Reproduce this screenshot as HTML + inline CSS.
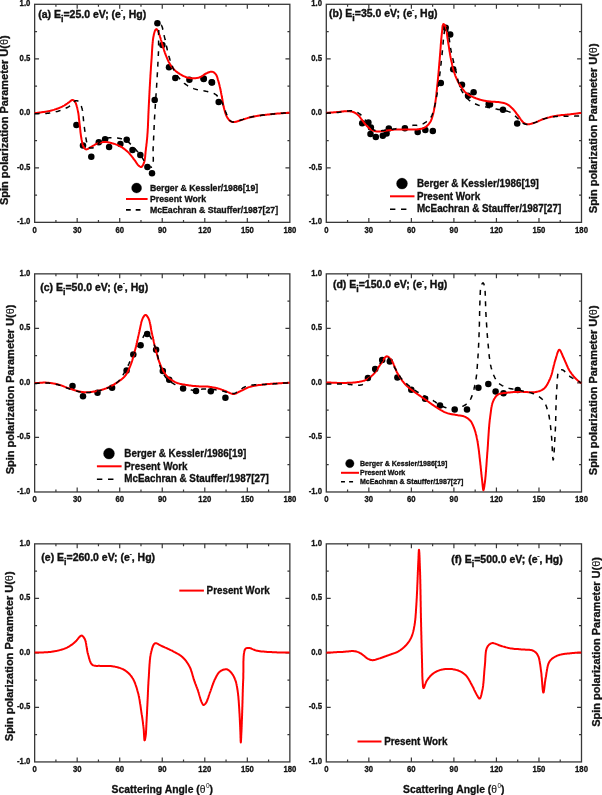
<!DOCTYPE html>
<html><head><meta charset="utf-8"><style>
html,body{margin:0;padding:0;background:#fff;}
svg{display:block;will-change:transform;}
</style></head><body>
<svg width="602" height="795" viewBox="0 0 602 795">
<rect width="602" height="795" fill="#fff"/>
<rect x="34.65" y="4.3" width="255.2" height="218.05" fill="none" stroke="#383838" stroke-width="1.3"/>
<path d="M55.92 222.35 v-2.4 M55.92 4.3 v2.4 M77.18 222.35 v-4.4 M77.18 4.3 v4.4 M98.45 222.35 v-2.4 M98.45 4.3 v2.4 M119.72 222.35 v-4.4 M119.72 4.3 v4.4 M140.98 222.35 v-2.4 M140.98 4.3 v2.4 M162.25 222.35 v-4.4 M162.25 4.3 v4.4 M183.52 222.35 v-2.4 M183.52 4.3 v2.4 M204.78 222.35 v-4.4 M204.78 4.3 v4.4 M226.05 222.35 v-2.4 M226.05 4.3 v2.4 M247.32 222.35 v-4.4 M247.32 4.3 v4.4 M268.58 222.35 v-2.4 M268.58 4.3 v2.4 M34.65 31.56 h2.4 M289.85 31.56 h-2.4 M34.65 58.81 h4.4 M289.85 58.81 h-4.4 M34.65 86.07 h2.4 M289.85 86.07 h-2.4 M34.65 113.32 h4.4 M289.85 113.32 h-4.4 M34.65 140.58 h2.4 M289.85 140.58 h-2.4 M34.65 167.84 h4.4 M289.85 167.84 h-4.4 M34.65 195.09 h2.4 M289.85 195.09 h-2.4" stroke="#383838" stroke-width="1.2" fill="none"/>
<g font-family='"Liberation Sans", sans-serif' font-weight="bold" font-size="8.4" fill="#111" stroke="#111" stroke-width="0.3"><text transform="translate(34.65 232.55) scale(0.92 1)" text-anchor="middle">0</text><text transform="translate(77.18 232.55) scale(0.92 1)" text-anchor="middle">30</text><text transform="translate(119.72 232.55) scale(0.92 1)" text-anchor="middle">60</text><text transform="translate(162.25 232.55) scale(0.92 1)" text-anchor="middle">90</text><text transform="translate(204.78 232.55) scale(0.92 1)" text-anchor="middle">120</text><text transform="translate(247.32 232.55) scale(0.92 1)" text-anchor="middle">150</text><text transform="translate(289.85 232.55) scale(0.92 1)" text-anchor="middle">180</text><text transform="translate(30.35 6.2) scale(0.92 1)" text-anchor="end">1.0</text><text transform="translate(30.35 60.71) scale(0.92 1)" text-anchor="end">0.5</text><text transform="translate(30.35 115.22) scale(0.92 1)" text-anchor="end">0.0</text><text transform="translate(30.35 169.74) scale(0.92 1)" text-anchor="end">-0.5</text><text transform="translate(30.35 224.25) scale(0.92 1)" text-anchor="end">-1.0</text></g>
<rect x="34.65" y="273.85" width="255.2" height="218.13" fill="none" stroke="#383838" stroke-width="1.3"/>
<path d="M55.92 491.98 v-2.4 M55.92 273.85 v2.4 M77.18 491.98 v-4.4 M77.18 273.85 v4.4 M98.45 491.98 v-2.4 M98.45 273.85 v2.4 M119.72 491.98 v-4.4 M119.72 273.85 v4.4 M140.98 491.98 v-2.4 M140.98 273.85 v2.4 M162.25 491.98 v-4.4 M162.25 273.85 v4.4 M183.52 491.98 v-2.4 M183.52 273.85 v2.4 M204.78 491.98 v-4.4 M204.78 273.85 v4.4 M226.05 491.98 v-2.4 M226.05 273.85 v2.4 M247.32 491.98 v-4.4 M247.32 273.85 v4.4 M268.58 491.98 v-2.4 M268.58 273.85 v2.4 M34.65 301.12 h2.4 M289.85 301.12 h-2.4 M34.65 328.38 h4.4 M289.85 328.38 h-4.4 M34.65 355.65 h2.4 M289.85 355.65 h-2.4 M34.65 382.92 h4.4 M289.85 382.92 h-4.4 M34.65 410.18 h2.4 M289.85 410.18 h-2.4 M34.65 437.45 h4.4 M289.85 437.45 h-4.4 M34.65 464.71 h2.4 M289.85 464.71 h-2.4" stroke="#383838" stroke-width="1.2" fill="none"/>
<g font-family='"Liberation Sans", sans-serif' font-weight="bold" font-size="8.4" fill="#111" stroke="#111" stroke-width="0.3"><text transform="translate(34.65 502.18) scale(0.92 1)" text-anchor="middle">0</text><text transform="translate(77.18 502.18) scale(0.92 1)" text-anchor="middle">30</text><text transform="translate(119.72 502.18) scale(0.92 1)" text-anchor="middle">60</text><text transform="translate(162.25 502.18) scale(0.92 1)" text-anchor="middle">90</text><text transform="translate(204.78 502.18) scale(0.92 1)" text-anchor="middle">120</text><text transform="translate(247.32 502.18) scale(0.92 1)" text-anchor="middle">150</text><text transform="translate(289.85 502.18) scale(0.92 1)" text-anchor="middle">180</text><text transform="translate(30.35 275.75) scale(0.92 1)" text-anchor="end">1.0</text><text transform="translate(30.35 330.28) scale(0.92 1)" text-anchor="end">0.5</text><text transform="translate(30.35 384.81) scale(0.92 1)" text-anchor="end">0.0</text><text transform="translate(30.35 439.35) scale(0.92 1)" text-anchor="end">-0.5</text><text transform="translate(30.35 493.88) scale(0.92 1)" text-anchor="end">-1.0</text></g>
<rect x="34.65" y="543.85" width="255.2" height="218.08" fill="none" stroke="#383838" stroke-width="1.3"/>
<path d="M55.92 761.93 v-2.4 M55.92 543.85 v2.4 M77.18 761.93 v-4.4 M77.18 543.85 v4.4 M98.45 761.93 v-2.4 M98.45 543.85 v2.4 M119.72 761.93 v-4.4 M119.72 543.85 v4.4 M140.98 761.93 v-2.4 M140.98 543.85 v2.4 M162.25 761.93 v-4.4 M162.25 543.85 v4.4 M183.52 761.93 v-2.4 M183.52 543.85 v2.4 M204.78 761.93 v-4.4 M204.78 543.85 v4.4 M226.05 761.93 v-2.4 M226.05 543.85 v2.4 M247.32 761.93 v-4.4 M247.32 543.85 v4.4 M268.58 761.93 v-2.4 M268.58 543.85 v2.4 M34.65 571.11 h2.4 M289.85 571.11 h-2.4 M34.65 598.37 h4.4 M289.85 598.37 h-4.4 M34.65 625.63 h2.4 M289.85 625.63 h-2.4 M34.65 652.89 h4.4 M289.85 652.89 h-4.4 M34.65 680.15 h2.4 M289.85 680.15 h-2.4 M34.65 707.41 h4.4 M289.85 707.41 h-4.4 M34.65 734.67 h2.4 M289.85 734.67 h-2.4" stroke="#383838" stroke-width="1.2" fill="none"/>
<g font-family='"Liberation Sans", sans-serif' font-weight="bold" font-size="8.4" fill="#111" stroke="#111" stroke-width="0.3"><text transform="translate(34.65 772.13) scale(0.92 1)" text-anchor="middle">0</text><text transform="translate(77.18 772.13) scale(0.92 1)" text-anchor="middle">30</text><text transform="translate(119.72 772.13) scale(0.92 1)" text-anchor="middle">60</text><text transform="translate(162.25 772.13) scale(0.92 1)" text-anchor="middle">90</text><text transform="translate(204.78 772.13) scale(0.92 1)" text-anchor="middle">120</text><text transform="translate(247.32 772.13) scale(0.92 1)" text-anchor="middle">150</text><text transform="translate(289.85 772.13) scale(0.92 1)" text-anchor="middle">180</text><text transform="translate(30.35 545.75) scale(0.92 1)" text-anchor="end">1.0</text><text transform="translate(30.35 600.27) scale(0.92 1)" text-anchor="end">0.5</text><text transform="translate(30.35 654.79) scale(0.92 1)" text-anchor="end">0.0</text><text transform="translate(30.35 709.31) scale(0.92 1)" text-anchor="end">-0.5</text><text transform="translate(30.35 763.83) scale(0.92 1)" text-anchor="end">-1.0</text></g>
<rect x="326.3" y="4.3" width="255.2" height="218.05" fill="none" stroke="#383838" stroke-width="1.3"/>
<path d="M347.57 222.35 v-2.4 M347.57 4.3 v2.4 M368.83 222.35 v-4.4 M368.83 4.3 v4.4 M390.1 222.35 v-2.4 M390.1 4.3 v2.4 M411.37 222.35 v-4.4 M411.37 4.3 v4.4 M432.63 222.35 v-2.4 M432.63 4.3 v2.4 M453.9 222.35 v-4.4 M453.9 4.3 v4.4 M475.17 222.35 v-2.4 M475.17 4.3 v2.4 M496.43 222.35 v-4.4 M496.43 4.3 v4.4 M517.7 222.35 v-2.4 M517.7 4.3 v2.4 M538.97 222.35 v-4.4 M538.97 4.3 v4.4 M560.23 222.35 v-2.4 M560.23 4.3 v2.4 M326.3 31.56 h2.4 M581.5 31.56 h-2.4 M326.3 58.81 h4.4 M581.5 58.81 h-4.4 M326.3 86.07 h2.4 M581.5 86.07 h-2.4 M326.3 113.32 h4.4 M581.5 113.32 h-4.4 M326.3 140.58 h2.4 M581.5 140.58 h-2.4 M326.3 167.84 h4.4 M581.5 167.84 h-4.4 M326.3 195.09 h2.4 M581.5 195.09 h-2.4" stroke="#383838" stroke-width="1.2" fill="none"/>
<g font-family='"Liberation Sans", sans-serif' font-weight="bold" font-size="8.4" fill="#111" stroke="#111" stroke-width="0.3"><text transform="translate(326.3 232.55) scale(0.92 1)" text-anchor="middle">0</text><text transform="translate(368.83 232.55) scale(0.92 1)" text-anchor="middle">30</text><text transform="translate(411.37 232.55) scale(0.92 1)" text-anchor="middle">60</text><text transform="translate(453.9 232.55) scale(0.92 1)" text-anchor="middle">90</text><text transform="translate(496.43 232.55) scale(0.92 1)" text-anchor="middle">120</text><text transform="translate(538.97 232.55) scale(0.92 1)" text-anchor="middle">150</text><text transform="translate(581.5 232.55) scale(0.92 1)" text-anchor="middle">180</text><text transform="translate(322 6.2) scale(0.92 1)" text-anchor="end">1.0</text><text transform="translate(322 60.71) scale(0.92 1)" text-anchor="end">0.5</text><text transform="translate(322 115.22) scale(0.92 1)" text-anchor="end">0.0</text><text transform="translate(322 169.74) scale(0.92 1)" text-anchor="end">-0.5</text><text transform="translate(322 224.25) scale(0.92 1)" text-anchor="end">-1.0</text></g>
<rect x="326.3" y="273.85" width="255.2" height="218.13" fill="none" stroke="#383838" stroke-width="1.3"/>
<path d="M347.57 491.98 v-2.4 M347.57 273.85 v2.4 M368.83 491.98 v-4.4 M368.83 273.85 v4.4 M390.1 491.98 v-2.4 M390.1 273.85 v2.4 M411.37 491.98 v-4.4 M411.37 273.85 v4.4 M432.63 491.98 v-2.4 M432.63 273.85 v2.4 M453.9 491.98 v-4.4 M453.9 273.85 v4.4 M475.17 491.98 v-2.4 M475.17 273.85 v2.4 M496.43 491.98 v-4.4 M496.43 273.85 v4.4 M517.7 491.98 v-2.4 M517.7 273.85 v2.4 M538.97 491.98 v-4.4 M538.97 273.85 v4.4 M560.23 491.98 v-2.4 M560.23 273.85 v2.4 M326.3 301.12 h2.4 M581.5 301.12 h-2.4 M326.3 328.38 h4.4 M581.5 328.38 h-4.4 M326.3 355.65 h2.4 M581.5 355.65 h-2.4 M326.3 382.92 h4.4 M581.5 382.92 h-4.4 M326.3 410.18 h2.4 M581.5 410.18 h-2.4 M326.3 437.45 h4.4 M581.5 437.45 h-4.4 M326.3 464.71 h2.4 M581.5 464.71 h-2.4" stroke="#383838" stroke-width="1.2" fill="none"/>
<g font-family='"Liberation Sans", sans-serif' font-weight="bold" font-size="8.4" fill="#111" stroke="#111" stroke-width="0.3"><text transform="translate(326.3 502.18) scale(0.92 1)" text-anchor="middle">0</text><text transform="translate(368.83 502.18) scale(0.92 1)" text-anchor="middle">30</text><text transform="translate(411.37 502.18) scale(0.92 1)" text-anchor="middle">60</text><text transform="translate(453.9 502.18) scale(0.92 1)" text-anchor="middle">90</text><text transform="translate(496.43 502.18) scale(0.92 1)" text-anchor="middle">120</text><text transform="translate(538.97 502.18) scale(0.92 1)" text-anchor="middle">150</text><text transform="translate(581.5 502.18) scale(0.92 1)" text-anchor="middle">180</text><text transform="translate(322 275.75) scale(0.92 1)" text-anchor="end">1.0</text><text transform="translate(322 330.28) scale(0.92 1)" text-anchor="end">0.5</text><text transform="translate(322 384.81) scale(0.92 1)" text-anchor="end">0.0</text><text transform="translate(322 439.35) scale(0.92 1)" text-anchor="end">-0.5</text><text transform="translate(322 493.88) scale(0.92 1)" text-anchor="end">-1.0</text></g>
<rect x="326.3" y="543.85" width="255.2" height="218.08" fill="none" stroke="#383838" stroke-width="1.3"/>
<path d="M347.57 761.93 v-2.4 M347.57 543.85 v2.4 M368.83 761.93 v-4.4 M368.83 543.85 v4.4 M390.1 761.93 v-2.4 M390.1 543.85 v2.4 M411.37 761.93 v-4.4 M411.37 543.85 v4.4 M432.63 761.93 v-2.4 M432.63 543.85 v2.4 M453.9 761.93 v-4.4 M453.9 543.85 v4.4 M475.17 761.93 v-2.4 M475.17 543.85 v2.4 M496.43 761.93 v-4.4 M496.43 543.85 v4.4 M517.7 761.93 v-2.4 M517.7 543.85 v2.4 M538.97 761.93 v-4.4 M538.97 543.85 v4.4 M560.23 761.93 v-2.4 M560.23 543.85 v2.4 M326.3 571.11 h2.4 M581.5 571.11 h-2.4 M326.3 598.37 h4.4 M581.5 598.37 h-4.4 M326.3 625.63 h2.4 M581.5 625.63 h-2.4 M326.3 652.89 h4.4 M581.5 652.89 h-4.4 M326.3 680.15 h2.4 M581.5 680.15 h-2.4 M326.3 707.41 h4.4 M581.5 707.41 h-4.4 M326.3 734.67 h2.4 M581.5 734.67 h-2.4" stroke="#383838" stroke-width="1.2" fill="none"/>
<g font-family='"Liberation Sans", sans-serif' font-weight="bold" font-size="8.4" fill="#111" stroke="#111" stroke-width="0.3"><text transform="translate(326.3 772.13) scale(0.92 1)" text-anchor="middle">0</text><text transform="translate(368.83 772.13) scale(0.92 1)" text-anchor="middle">30</text><text transform="translate(411.37 772.13) scale(0.92 1)" text-anchor="middle">60</text><text transform="translate(453.9 772.13) scale(0.92 1)" text-anchor="middle">90</text><text transform="translate(496.43 772.13) scale(0.92 1)" text-anchor="middle">120</text><text transform="translate(538.97 772.13) scale(0.92 1)" text-anchor="middle">150</text><text transform="translate(581.5 772.13) scale(0.92 1)" text-anchor="middle">180</text><text transform="translate(322 545.75) scale(0.92 1)" text-anchor="end">1.0</text><text transform="translate(322 600.27) scale(0.92 1)" text-anchor="end">0.5</text><text transform="translate(322 654.79) scale(0.92 1)" text-anchor="end">0.0</text><text transform="translate(322 709.31) scale(0.92 1)" text-anchor="end">-0.5</text><text transform="translate(322 763.83) scale(0.92 1)" text-anchor="end">-1.0</text></g>
<text transform="translate(8 205.1) rotate(-90)" x="0" y="0" font-family='"Liberation Sans", sans-serif' font-weight="bold" font-size="10.8" fill="#111" stroke="#111" stroke-width="0.3" textLength="169.8" lengthAdjust="spacingAndGlyphs">Spin polarization Parameter U(<tspan font-weight="normal" stroke-width="0.1">&#952;</tspan>)</text>
<text transform="translate(13.5 474.3) rotate(-90)" x="0" y="0" font-family='"Liberation Sans", sans-serif' font-weight="bold" font-size="10.8" fill="#111" stroke="#111" stroke-width="0.3" textLength="169.8" lengthAdjust="spacingAndGlyphs">Spin polarization Parameter U(<tspan font-weight="normal" stroke-width="0.1">&#952;</tspan>)</text>
<text transform="translate(12.5 741.2) rotate(-90)" x="0" y="0" font-family='"Liberation Sans", sans-serif' font-weight="bold" font-size="10.8" fill="#111" stroke="#111" stroke-width="0.3" textLength="169.8" lengthAdjust="spacingAndGlyphs">Spin polarization Parameter U(<tspan font-weight="normal" stroke-width="0.1">&#952;</tspan>)</text>
<text transform="translate(596.7 213.2) rotate(-90)" x="0" y="0" font-family='"Liberation Sans", sans-serif' font-weight="bold" font-size="10.8" fill="#111" stroke="#111" stroke-width="0.3" textLength="169.8" lengthAdjust="spacingAndGlyphs">Spin polarization Parameter U(<tspan font-weight="normal" stroke-width="0.1">&#952;</tspan>)</text>
<text transform="translate(596.7 475.2) rotate(-90)" x="0" y="0" font-family='"Liberation Sans", sans-serif' font-weight="bold" font-size="10.8" fill="#111" stroke="#111" stroke-width="0.3" textLength="169.8" lengthAdjust="spacingAndGlyphs">Spin polarization Parameter U(<tspan font-weight="normal" stroke-width="0.1">&#952;</tspan>)</text>
<text transform="translate(600 726.8) rotate(-90)" x="0" y="0" font-family='"Liberation Sans", sans-serif' font-weight="bold" font-size="10.8" fill="#111" stroke="#111" stroke-width="0.3" textLength="169.8" lengthAdjust="spacingAndGlyphs">Spin polarization Parameter U(<tspan font-weight="normal" stroke-width="0.1">&#952;</tspan>)</text>
<text x="162.3" y="792.5" text-anchor="middle" font-family='"Liberation Sans", sans-serif' font-weight="bold" font-size="10.35" fill="#111" stroke="#111" stroke-width="0.3">Scattering Angle (<tspan font-weight="normal" stroke-width="0.1">&#952;</tspan><tspan font-weight="normal" stroke-width="0" font-size="6.5" dy="-4.6" dx="0.4">0</tspan><tspan dy="4.6">)</tspan></text>
<text x="453.8" y="792.5" text-anchor="middle" font-family='"Liberation Sans", sans-serif' font-weight="bold" font-size="10.35" fill="#111" stroke="#111" stroke-width="0.3">Scattering Angle (<tspan font-weight="normal" stroke-width="0.1">&#952;</tspan><tspan font-weight="normal" stroke-width="0" font-size="6.5" dy="-4.6" dx="0.4">0</tspan><tspan dy="4.6">)</tspan></text>
<text transform="translate(38.2 17.6) scale(1.05 1)" x="0" y="0" font-family='"Liberation Sans", sans-serif' font-weight="bold" font-size="10" fill="#111" stroke="#111" stroke-width="0.35">(a) E<tspan font-size="8.5" dy="3.9">i</tspan><tspan dy="-3.9">=25.0 eV; (e</tspan><tspan font-size="5.5" dy="-5.5">-</tspan><tspan dy="5.5">, Hg)</tspan></text>
<text transform="translate(329 17.2) scale(1.05 1)" x="0" y="0" font-family='"Liberation Sans", sans-serif' font-weight="bold" font-size="10" fill="#111" stroke="#111" stroke-width="0.35">(b) E<tspan font-size="8.5" dy="3.9">i</tspan><tspan dy="-3.9">=35.0 eV; (e</tspan><tspan font-size="5.5" dy="-5.5">-</tspan><tspan dy="5.5">, Hg)</tspan></text>
<text transform="translate(40.2 290.9) scale(1.05 1)" x="0" y="0" font-family='"Liberation Sans", sans-serif' font-weight="bold" font-size="10" fill="#111" stroke="#111" stroke-width="0.35">(c) E<tspan font-size="8.5" dy="3.9">i</tspan><tspan dy="-3.9">=50.0 eV; (e</tspan><tspan font-size="5.5" dy="-5.5">-</tspan><tspan dy="5.5">, Hg)</tspan></text>
<text transform="translate(332.9 288) scale(1.05 1)" x="0" y="0" font-family='"Liberation Sans", sans-serif' font-weight="bold" font-size="10" fill="#111" stroke="#111" stroke-width="0.35">(d) E<tspan font-size="8.5" dy="3.9">i</tspan><tspan dy="-3.9">=150.0 eV; (e</tspan><tspan font-size="5.5" dy="-5.5">-</tspan><tspan dy="5.5">, Hg)</tspan></text>
<text transform="translate(41.3 561.3) scale(1.05 1)" x="0" y="0" font-family='"Liberation Sans", sans-serif' font-weight="bold" font-size="10" fill="#111" stroke="#111" stroke-width="0.35">(e) E<tspan font-size="8.5" dy="3.9">i</tspan><tspan dy="-3.9">=260.0 eV; (e</tspan><tspan font-size="5.5" dy="-5.5">-</tspan><tspan dy="5.5">, Hg)</tspan></text>
<text transform="translate(451.3 563.3) scale(1.05 1)" x="0" y="0" font-family='"Liberation Sans", sans-serif' font-weight="bold" font-size="10" fill="#111" stroke="#111" stroke-width="0.35">(f) E<tspan font-size="8.5" dy="3.9">i</tspan><tspan dy="-3.9">=500.0 eV; (e</tspan><tspan font-size="5.5" dy="-5.5">-</tspan><tspan dy="5.5">, Hg)</tspan></text>
<g font-family='"Liberation Sans", sans-serif' font-weight="bold" font-size="8.75" fill="#111" stroke="#111" stroke-width="0.3"><circle cx="136.6" cy="188" r="5" fill="#000"/><text transform="translate(149.9 190.9) scale(1 1.1)">Berger &amp; Kessler/1986[19]</text><path d="M126 199 H147.6" stroke="#f00" stroke-width="2"/><text transform="translate(149.9 201.5) scale(1 1.1)">Present Work</text><path d="M126 209.9 h4.75 M135.72 209.9 h4.75" stroke="#000" stroke-width="1.6"/><text transform="translate(149.9 212.6) scale(1 1.1)">McEachran &amp; Stauffer/1987[27]</text></g>
<g font-family='"Liberation Sans", sans-serif' font-weight="bold" font-size="9.85" fill="#111" stroke="#111" stroke-width="0.3"><circle cx="402" cy="183.6" r="5.5" fill="#000"/><text transform="translate(416.9 187.2) scale(1 1.1)">Berger &amp; Kessler/1986[19]</text><path d="M390 196.3 H414.5" stroke="#f00" stroke-width="2"/><text transform="translate(416.9 199.6) scale(1 1.1)">Present Work</text><path d="M390 209.3 h5.39 M401.02 209.3 h5.39" stroke="#000" stroke-width="1.6"/><text transform="translate(416.9 212.2) scale(1 1.1)">McEachran &amp; Stauffer/1987[27]</text></g>
<g font-family='"Liberation Sans", sans-serif' font-weight="bold" font-size="9.85" fill="#111" stroke="#111" stroke-width="0.3"><circle cx="109" cy="453.6" r="5.5" fill="#000"/><text transform="translate(124.3 457.2) scale(1 1.1)">Berger &amp; Kessler/1986[19]</text><path d="M96.9 466.3 H121.6" stroke="#f00" stroke-width="2"/><text transform="translate(124.3 469.6) scale(1 1.1)">Present Work</text><path d="M96.9 479.3 h5.43 M108.02 479.3 h5.43" stroke="#000" stroke-width="1.6"/><text transform="translate(124.3 482) scale(1 1.1)">McEachran &amp; Stauffer/1987[27]</text></g>
<g font-family='"Liberation Sans", sans-serif' font-weight="bold" font-size="7.05" fill="#111" stroke="#111" stroke-width="0.3"><circle cx="349.8" cy="463.5" r="4.25" fill="#000"/><text transform="translate(360 465.5) scale(1 1.1)">Berger &amp; Kessler/1986[19]</text><path d="M341 472.8 H359" stroke="#f00" stroke-width="2"/><text transform="translate(360 474.5) scale(1 1.1)">Present Work</text><path d="M341 481.8 h3.96 M349.1 481.8 h3.96" stroke="#000" stroke-width="1.6"/><text transform="translate(360 483.5) scale(1 1.1)">McEachran &amp; Stauffer/1987[27]</text></g>
<g font-family='"Liberation Sans", sans-serif' font-weight="bold" font-size="9.83" fill="#111" stroke="#111" stroke-width="0.3"><path d="M179.3 590.6 H203.9" stroke="#f00" stroke-width="2"/><text transform="translate(206.6 594) scale(1 1.1)">Present Work</text></g>
<g font-family='"Liberation Sans", sans-serif' font-weight="bold" font-size="9.83" fill="#111" stroke="#111" stroke-width="0.3"><path d="M357.5 741.5 H381.5" stroke="#f00" stroke-width="2"/><text transform="translate(384.2 745) scale(1 1.1)">Present Work</text></g>
<g fill="#000"><circle cx="76.4" cy="124.9" r="3.25"/><circle cx="83" cy="145.6" r="3.25"/><circle cx="91.3" cy="156.7" r="3.25"/><circle cx="98.8" cy="142.3" r="3.25"/><circle cx="105.1" cy="139.3" r="3.25"/><circle cx="109.1" cy="146.9" r="3.25"/><circle cx="120.4" cy="144" r="3.25"/><circle cx="126.7" cy="139.8" r="3.25"/><circle cx="132.5" cy="150" r="3.25"/><circle cx="140.3" cy="154.9" r="3.25"/><circle cx="147.4" cy="167" r="3.25"/><circle cx="152" cy="173.2" r="3.25"/><circle cx="154.7" cy="100" r="3.25"/><circle cx="157.4" cy="23.3" r="3.25"/><circle cx="162.4" cy="44.9" r="3.25"/><circle cx="169" cy="67.3" r="3.25"/><circle cx="175.3" cy="78.1" r="3.25"/><circle cx="189.4" cy="79.8" r="3.25"/><circle cx="203.6" cy="78.4" r="3.25"/><circle cx="211.7" cy="82.3" r="3.25"/><circle cx="218.7" cy="101.9" r="3.25"/><circle cx="203.7" cy="79.1" r="3.25"/><circle cx="212" cy="82.4" r="3.25"/><circle cx="362.2" cy="123.2" r="3.25"/><circle cx="368.4" cy="122.4" r="3.25"/><circle cx="370.9" cy="127.4" r="3.25"/><circle cx="370.5" cy="134" r="3.25"/><circle cx="375.8" cy="137" r="3.25"/><circle cx="382.8" cy="135.7" r="3.25"/><circle cx="386.6" cy="133.5" r="3.25"/><circle cx="388.8" cy="128.5" r="3.25"/><circle cx="404.9" cy="128.2" r="3.25"/><circle cx="417.7" cy="131.9" r="3.25"/><circle cx="425.3" cy="129.9" r="3.25"/><circle cx="432.8" cy="130.9" r="3.25"/><circle cx="440.8" cy="82.9" r="3.25"/><circle cx="445.7" cy="27.8" r="3.25"/><circle cx="450.2" cy="34.6" r="3.25"/><circle cx="453.2" cy="69.3" r="3.25"/><circle cx="462" cy="84.7" r="3.25"/><circle cx="473.6" cy="92.3" r="3.25"/><circle cx="468" cy="95.8" r="3.25"/><circle cx="488.7" cy="104.1" r="3.25"/><circle cx="490" cy="104.5" r="3.25"/><circle cx="503" cy="109.8" r="3.25"/><circle cx="517.2" cy="123.6" r="3.25"/><circle cx="72.5" cy="386" r="3.25"/><circle cx="83" cy="396.3" r="3.25"/><circle cx="97.5" cy="392.7" r="3.25"/><circle cx="112.1" cy="387.7" r="3.25"/><circle cx="126.6" cy="370.4" r="3.25"/><circle cx="133.3" cy="354.5" r="3.25"/><circle cx="140.6" cy="345.2" r="3.25"/><circle cx="147.2" cy="333.9" r="3.25"/><circle cx="156.1" cy="349.8" r="3.25"/><circle cx="162.8" cy="371.1" r="3.25"/><circle cx="169.2" cy="379.7" r="3.25"/><circle cx="183.1" cy="388.4" r="3.25"/><circle cx="196" cy="391" r="3.25"/><circle cx="210.8" cy="391.2" r="3.25"/><circle cx="225.4" cy="397.7" r="3.25"/><circle cx="367.9" cy="377.9" r="3.25"/><circle cx="375.2" cy="368.9" r="3.25"/><circle cx="382.2" cy="359.9" r="3.25"/><circle cx="389.8" cy="361.5" r="3.25"/><circle cx="397.4" cy="377.5" r="3.25"/><circle cx="411.3" cy="389.8" r="3.25"/><circle cx="425.1" cy="398.8" r="3.25"/><circle cx="440" cy="405.4" r="3.25"/><circle cx="454.7" cy="409.6" r="3.25"/><circle cx="467" cy="409.6" r="3.25"/><circle cx="478.4" cy="387.7" r="3.25"/><circle cx="488.3" cy="383.9" r="3.25"/><circle cx="495.6" cy="391.6" r="3.25"/><circle cx="503.5" cy="393.2" r="3.25"/><circle cx="517.7" cy="390" r="3.25"/></g>
<path d="M34.7 113.2 L35.4 113.1 L36.2 113 L36.9 112.9 L37.6 112.8 L38.4 112.7 L39.1 112.6 L39.9 112.5 L40.6 112.4 L41.3 112.3 L42.1 112.2 L42.8 112.1 L43.6 112 L44.3 111.9 L45 111.8 L45.7 111.7 L46.5 111.6 L47.2 111.4 L47.9 111.3 L48.6 111.2 L49.3 111 L49.9 110.9 L50.6 110.7 L51.3 110.5 L52.1 110.3 L52.8 110.1 L53.6 109.9 L54.3 109.7 L55 109.4 L55.7 109.2 L56.4 109 L57.1 108.7 L57.8 108.5 L58.5 108.2 L59.1 108 L59.8 107.7 L60.4 107.4 L61 107.2 L61.6 106.9 L62.2 106.6 L62.9 106.2 L63.6 105.9 L64.3 105.5 L64.9 105.1 L65.5 104.7 L66.1 104.3 L66.7 103.9 L67.3 103.5 L67.8 103.1 L68.4 102.7 L68.9 102.4 L69.6 101.9 L70.2 101.3 L70.8 100.8 L71.4 100.4 L72 100 L72.5 99.9 L73.3 100.1 L74 100.6 L74.7 101.3 L75 101.7 L75.3 102.3 L75.6 102.9 L75.9 103.5 L76.1 104.2 L76.4 105 L76.6 105.8 L76.8 106.6 L77.1 107.4 L77.3 108.3 L77.5 109.1 L77.6 109.7 L77.8 110.3 L77.9 111 L78 111.6 L78.1 112.3 L78.3 113 L78.4 113.7 L78.5 114.5 L78.6 115.2 L78.7 116 L78.8 116.7 L78.8 117.5 L78.9 118.3 L79 119 L79.1 119.8 L79.2 120.5 L79.3 121.3 L79.4 122 L79.4 122.8 L79.5 123.5 L79.6 124.2 L79.7 124.9 L79.8 125.7 L79.9 126.4 L80 127.2 L80.1 128 L80.1 128.7 L80.2 129.5 L80.3 130.2 L80.4 131 L80.4 131.7 L80.5 132.5 L80.6 133.2 L80.7 133.9 L80.8 134.6 L80.9 135.4 L81 136.1 L81.1 136.8 L81.2 137.4 L81.3 138.1 L81.5 138.9 L81.6 139.7 L81.8 140.5 L81.9 141.3 L82.1 142.1 L82.3 142.9 L82.4 143.6 L82.6 144.4 L82.8 145.1 L83 145.7 L83.3 146.3 L83.5 146.8 L83.8 147.3 L84.3 148.1 L84.9 148.7 L85.6 149.2 L86.3 149.4 L86.9 149.3 L87.6 149.1 L88.3 148.7 L89 148.2 L89.7 147.7 L90.5 147.3 L91.1 147 L91.7 146.6 L92.4 146.2 L93 145.8 L93.7 145.4 L94.4 145 L95 144.6 L95.7 144.2 L96.4 143.9 L97.1 143.6 L97.8 143.3 L98.6 143.1 L99.3 142.8 L100 142.6 L100.8 142.4 L101.6 142.3 L102.3 142.2 L103.1 142.1 L103.8 142 L104.5 142 L105.2 142 L106 142 L106.7 142.1 L107.4 142.2 L108.1 142.3 L108.9 142.5 L109.6 142.6 L110.4 142.8 L111 143 L111.7 143.1 L112.3 143.3 L113 143.5 L113.7 143.7 L114.4 143.9 L115.1 144.1 L115.7 144.4 L116.4 144.6 L117.1 144.9 L117.8 145.2 L118.5 145.5 L119.1 145.8 L119.8 146.1 L120.4 146.4 L121 146.7 L121.6 147.1 L122.2 147.5 L122.8 147.9 L123.4 148.3 L124 148.7 L124.5 149.1 L125.1 149.6 L125.7 150 L126.2 150.5 L126.7 150.9 L127.3 151.4 L127.8 151.9 L128.3 152.4 L128.8 152.9 L129.3 153.4 L129.8 154 L130.3 154.5 L130.7 155.1 L131.2 155.7 L131.7 156.3 L132.1 156.9 L132.6 157.4 L133 158 L133.4 158.6 L133.8 159.2 L134.2 159.7 L134.6 160.2 L135 160.7 L135.5 161.4 L135.9 162 L136.3 162.6 L136.7 163.2 L137.1 163.8 L137.5 164.4 L137.9 164.9 L138.3 165.3 L139 165.9 L139.8 166.5 L140.5 166.9 L141.2 167 L141.7 166.8 L142.1 166.3 L142.6 165.7 L143 165 L143.4 164.1 L143.8 163.3 L144.1 162.4 L144.3 161.8 L144.5 161.2 L144.6 160.6 L144.7 159.9 L144.8 159.3 L144.9 158.6 L145 157.8 L145.1 157.1 L145.2 156.3 L145.2 155.5 L145.3 154.8 L145.4 154 L145.5 153.2 L145.5 152.4 L145.6 151.6 L145.7 150.8 L145.8 150.1 L145.9 149.5 L145.9 148.8 L146 148.1 L146.1 147.4 L146.2 146.8 L146.3 146.1 L146.4 145.4 L146.4 144.7 L146.5 144 L146.6 143.3 L146.7 142.6 L146.8 141.8 L146.8 141.1 L146.9 140.4 L147 139.6 L147.1 138.9 L147.1 138.1 L147.2 137.4 L147.3 136.6 L147.3 135.8 L147.4 135 L147.4 134.4 L147.5 133.7 L147.5 133.1 L147.6 132.4 L147.6 131.7 L147.7 131.1 L147.7 130.4 L147.7 129.7 L147.8 129 L147.8 128.3 L147.9 127.6 L147.9 126.9 L147.9 126.1 L148 125.4 L148 124.7 L148 124 L148 123.2 L148.1 122.5 L148.1 121.8 L148.1 121 L148.2 120.3 L148.2 119.5 L148.2 118.8 L148.3 118.1 L148.3 117.3 L148.3 116.6 L148.3 115.8 L148.4 115.1 L148.4 114.4 L148.4 113.6 L148.5 112.9 L148.5 112.2 L148.5 111.4 L148.6 110.7 L148.6 110 L148.6 109.3 L148.7 108.6 L148.7 107.9 L148.7 107.2 L148.8 106.5 L148.8 105.8 L148.8 105.1 L148.9 104.4 L148.9 103.7 L148.9 103 L149 102.3 L149 101.6 L149 100.9 L149.1 100.2 L149.1 99.5 L149.2 98.8 L149.2 98.1 L149.2 97.4 L149.3 96.7 L149.3 96.1 L149.3 95.4 L149.4 94.7 L149.4 94 L149.4 93.3 L149.5 92.6 L149.5 91.9 L149.5 91.1 L149.6 90.4 L149.6 89.7 L149.7 89 L149.7 88.3 L149.7 87.6 L149.8 86.9 L149.8 86.2 L149.9 85.5 L149.9 84.8 L149.9 84.1 L150 83.4 L150 82.7 L150.1 82 L150.1 81.3 L150.1 80.6 L150.2 79.9 L150.2 79.2 L150.3 78.5 L150.3 77.8 L150.4 77 L150.4 76.3 L150.4 75.6 L150.5 74.9 L150.5 74.2 L150.6 73.5 L150.6 72.7 L150.7 72 L150.7 71.3 L150.8 70.6 L150.8 69.9 L150.9 69.2 L150.9 68.5 L150.9 67.8 L151 67 L151 66.3 L151.1 65.6 L151.1 64.9 L151.2 64.3 L151.2 63.6 L151.3 62.9 L151.3 62.2 L151.4 61.5 L151.4 60.8 L151.5 60.2 L151.5 59.5 L151.6 58.9 L151.6 58.2 L151.7 57.4 L151.7 56.7 L151.8 55.9 L151.8 55.1 L151.9 54.3 L151.9 53.6 L151.9 52.8 L152 52 L152 51.2 L152.1 50.5 L152.1 49.7 L152.2 48.9 L152.2 48.2 L152.3 47.4 L152.3 46.7 L152.4 46 L152.4 45.3 L152.5 44.5 L152.5 43.8 L152.6 43.2 L152.7 42.5 L152.7 41.8 L152.8 41.2 L152.9 40.5 L152.9 39.9 L153 39.3 L153.1 38.8 L153.2 38.2 L153.3 37.3 L153.5 36.4 L153.7 35.6 L153.8 34.7 L154 33.9 L154.2 33.2 L154.4 32.5 L154.6 31.8 L154.8 31.2 L155 30.7 L155.2 30.3 L155.8 29.4 L156.5 29.1 L156.9 29.3 L157.3 29.9 L157.7 30.6 L158.1 31.5 L158.5 32.4 L158.7 32.9 L159 33.5 L159.2 34.2 L159.4 34.8 L159.6 35.5 L159.9 36.2 L160.1 37 L160.3 37.7 L160.6 38.5 L160.8 39.3 L161 40 L161.3 40.8 L161.5 41.6 L161.7 42.2 L161.9 42.9 L162.1 43.6 L162.3 44.3 L162.5 45 L162.7 45.7 L162.9 46.4 L163.1 47.1 L163.3 47.8 L163.6 48.5 L163.8 49.3 L164 50 L164.2 50.7 L164.4 51.4 L164.7 52.1 L164.9 52.8 L165.2 53.5 L165.4 54.2 L165.7 54.9 L166 55.6 L166.3 56.3 L166.5 56.9 L166.8 57.6 L167.1 58.3 L167.4 59 L167.7 59.7 L168 60.3 L168.3 61 L168.6 61.7 L168.9 62.3 L169.3 62.9 L169.6 63.6 L170 64.2 L170.3 64.8 L170.7 65.4 L171.1 65.9 L171.5 66.5 L172 67.1 L172.5 67.7 L173 68.3 L173.5 68.8 L174 69.4 L174.5 69.9 L175.1 70.4 L175.6 70.9 L176.2 71.4 L176.8 71.9 L177.4 72.3 L178 72.8 L178.6 73.2 L179.2 73.6 L179.8 74 L180.4 74.4 L181 74.7 L181.7 75.1 L182.3 75.5 L183 75.8 L183.7 76.1 L184.3 76.4 L185 76.7 L185.7 77 L186.4 77.2 L187.1 77.5 L187.7 77.7 L188.4 77.8 L189.1 78 L189.8 78.1 L190.5 78.2 L191.2 78.3 L192 78.3 L192.7 78.3 L193.4 78.3 L194.2 78.3 L194.9 78.2 L195.6 78.2 L196.4 78.1 L197.1 77.9 L197.8 77.8 L198.4 77.7 L199.1 77.5 L199.7 77.3 L200.4 77 L201.1 76.7 L201.7 76.3 L202.4 75.9 L203 75.5 L203.6 75 L204.2 74.6 L204.8 74.2 L205.4 73.8 L206 73.5 L206.8 73.2 L207.5 72.8 L208.3 72.5 L209.1 72.2 L209.9 71.9 L210.6 71.7 L211.3 71.7 L212 71.7 L212.7 71.9 L213.4 72.2 L214 72.5 L214.6 73 L215.2 73.6 L215.7 74.2 L216 74.7 L216.4 75.2 L216.6 75.8 L216.9 76.4 L217.2 77.1 L217.4 77.8 L217.6 78.5 L217.8 79.3 L218 80.1 L218.3 80.8 L218.5 81.6 L218.7 82.4 L218.9 83 L219.1 83.7 L219.2 84.3 L219.4 85 L219.6 85.7 L219.7 86.4 L219.9 87.1 L220.1 87.9 L220.2 88.6 L220.4 89.3 L220.5 90.1 L220.7 90.8 L220.8 91.6 L221 92.3 L221.1 93 L221.3 93.8 L221.4 94.5 L221.6 95.2 L221.7 95.9 L221.8 96.6 L222 97.3 L222.1 98.1 L222.2 98.8 L222.4 99.5 L222.5 100.2 L222.6 100.9 L222.7 101.7 L222.8 102.4 L222.9 103.1 L223.1 103.8 L223.2 104.5 L223.3 105.1 L223.4 105.8 L223.6 106.5 L223.7 107.1 L223.9 107.8 L224.1 108.5 L224.3 109.3 L224.5 110.1 L224.7 110.8 L224.9 111.5 L225.1 112.3 L225.3 113 L225.6 113.7 L225.8 114.3 L226.1 115 L226.3 115.6 L226.6 116.2 L226.9 116.8 L227.3 117.5 L227.7 118.2 L228.2 118.8 L228.6 119.4 L229.1 120 L229.6 120.5 L230.1 120.9 L230.6 121.3 L231.3 121.6 L232 121.9 L232.8 122 L233.6 122 L234.4 122 L235 121.9 L235.6 121.8 L236.2 121.7 L236.9 121.5 L237.6 121.3 L238.3 121 L239 120.8 L239.7 120.5 L240.4 120.3 L241.2 120 L241.9 119.8 L242.5 119.6 L243.2 119.4 L243.8 119.2 L244.5 119 L245.2 118.8 L245.8 118.6 L246.5 118.4 L247.2 118.2 L247.9 117.9 L248.6 117.7 L249.3 117.5 L250.1 117.3 L250.8 117.2 L251.5 117 L252.3 116.8 L252.9 116.7 L253.6 116.5 L254.3 116.4 L254.9 116.3 L255.6 116.2 L256.3 116.1 L257 115.9 L257.7 115.8 L258.4 115.7 L259.1 115.6 L259.8 115.5 L260.5 115.4 L261.2 115.3 L262 115.2 L262.7 115.1 L263.5 115.1 L264.2 115 L265 114.9 L265.7 114.8 L266.5 114.7 L267.3 114.6 L267.9 114.5 L268.6 114.5 L269.3 114.4 L269.9 114.3 L270.6 114.2 L271.3 114.2 L272 114.1 L272.7 114 L273.4 114 L274.1 113.9 L274.9 113.8 L275.6 113.8 L276.3 113.7 L277 113.6 L277.8 113.6 L278.5 113.5 L279.2 113.5 L280 113.4 L280.7 113.3 L281.4 113.3 L282.2 113.2 L282.9 113.2 L283.7 113.1 L284.4 113 L285.1 113 L285.9 112.9 L286.6 112.9 L287.3 112.8 L288.1 112.7 L288.8 112.7 L289.5 112.6" stroke="#f00" stroke-width="2.0" fill="none" stroke-linejoin="round"/>
<path d="M326.3 112.9 L327 112.8 L327.8 112.8 L328.5 112.7 L329.3 112.7 L330 112.6 L330.8 112.6 L331.6 112.5 L332.3 112.5 L333.1 112.4 L333.8 112.3 L334.6 112.3 L335.3 112.2 L336 112.2 L336.7 112.1 L337.4 112.1 L338 112 L338.7 112 L339.3 111.9 L340.1 111.8 L341 111.7 L341.7 111.6 L342.5 111.5 L343.2 111.4 L343.9 111.3 L344.6 111.3 L345.3 111.2 L346 111.2 L346.8 111.2 L347.5 111.2 L348.2 111.2 L348.9 111.2 L349.6 111.3 L350.3 111.4 L351 111.5 L351.7 111.6 L352.4 111.8 L353.1 112 L353.7 112.2 L354.4 112.5 L355 112.8 L355.6 113.2 L356.2 113.6 L356.8 114 L357.4 114.5 L357.9 115 L358.5 115.5 L359 116 L359.5 116.5 L359.9 117.1 L360.3 117.6 L360.7 118.2 L361.1 118.8 L361.6 119.4 L362 120 L362.5 120.6 L362.9 121.2 L363.4 121.8 L363.8 122.4 L364.3 123.1 L364.8 123.7 L365.3 124.3 L365.9 124.9 L366.4 125.4 L366.9 126 L367.5 126.5 L368.1 127.1 L368.7 127.6 L369.2 128.2 L369.9 128.7 L370.5 129.1 L371.1 129.5 L371.7 129.9 L372.4 130.2 L373.1 130.5 L373.8 130.8 L374.5 131 L375.2 131.2 L376 131.3 L376.7 131.4 L377.5 131.5 L378.2 131.5 L378.9 131.5 L379.6 131.5 L380.4 131.4 L381.1 131.3 L381.9 131.2 L382.7 131.1 L383.4 131 L384.2 130.9 L385 130.8 L385.8 130.7 L386.5 130.6 L387.2 130.5 L387.9 130.4 L388.6 130.3 L389.3 130.3 L390 130.2 L390.7 130.1 L391.5 130 L392.2 129.9 L392.9 129.8 L393.6 129.7 L394.4 129.6 L395.1 129.6 L395.8 129.5 L396.5 129.5 L397.2 129.4 L397.9 129.4 L398.6 129.4 L399.3 129.4 L400 129.4 L400.7 129.4 L401.5 129.4 L402.2 129.4 L402.9 129.4 L403.6 129.4 L404.3 129.4 L405 129.4 L405.7 129.4 L406.4 129.4 L407.1 129.4 L407.9 129.4 L408.6 129.5 L409.4 129.5 L410.1 129.5 L410.8 129.5 L411.6 129.5 L412.3 129.6 L413 129.6 L413.7 129.6 L414.4 129.6 L415.1 129.5 L415.7 129.5 L416.5 129.4 L417.3 129.4 L418.1 129.3 L418.8 129.2 L419.6 129.1 L420.3 129 L421 128.8 L421.7 128.7 L422.3 128.5 L423.1 128.2 L423.9 127.9 L424.6 127.6 L425.3 127.2 L426 126.7 L426.5 126.3 L427 125.9 L427.5 125.5 L427.9 125 L428.4 124.5 L428.9 123.9 L429.3 123.3 L429.8 122.7 L430.2 122.1 L430.6 121.4 L430.9 120.9 L431.1 120.3 L431.4 119.8 L431.6 119.2 L431.8 118.6 L432 118 L432.2 117.3 L432.4 116.7 L432.6 116 L432.8 115.3 L433 114.6 L433.2 113.9 L433.3 113.2 L433.5 112.4 L433.7 111.7 L433.8 110.9 L434 110.2 L434.1 109.4 L434.3 108.6 L434.4 108 L434.5 107.4 L434.7 106.8 L434.8 106.1 L434.9 105.5 L435 104.8 L435.1 104.1 L435.2 103.5 L435.3 102.8 L435.4 102.1 L435.5 101.4 L435.6 100.6 L435.7 99.9 L435.8 99.2 L435.9 98.5 L436 97.7 L436 97 L436.1 96.3 L436.2 95.5 L436.3 94.8 L436.4 94 L436.5 93.3 L436.5 92.5 L436.6 91.8 L436.7 91 L436.8 90.3 L436.9 89.5 L436.9 88.8 L437 88 L437.1 87.3 L437.2 86.6 L437.2 85.8 L437.3 85.1 L437.4 84.4 L437.5 83.7 L437.6 83 L437.6 82.3 L437.7 81.6 L437.8 80.9 L437.8 80.2 L437.9 79.5 L438 78.8 L438 78.1 L438.1 77.4 L438.2 76.7 L438.2 76 L438.3 75.3 L438.4 74.5 L438.4 73.8 L438.5 73.1 L438.6 72.4 L438.6 71.7 L438.7 71 L438.7 70.3 L438.8 69.6 L438.9 68.9 L438.9 68.2 L439 67.5 L439 66.8 L439.1 66.1 L439.2 65.4 L439.2 64.6 L439.3 63.9 L439.3 63.2 L439.4 62.5 L439.5 61.8 L439.5 61 L439.6 60.3 L439.7 59.6 L439.7 58.9 L439.8 58.2 L439.8 57.4 L439.9 56.7 L440 55.9 L440 55.2 L440.1 54.4 L440.1 53.7 L440.2 52.9 L440.3 52.1 L440.3 51.3 L440.4 50.5 L440.4 49.8 L440.5 49 L440.6 48.2 L440.6 47.4 L440.7 46.7 L440.7 45.9 L440.8 45.1 L440.8 44.4 L440.9 43.6 L441 42.8 L441 42.1 L441.1 41.4 L441.1 40.7 L441.2 39.9 L441.3 39.2 L441.3 38.6 L441.4 37.9 L441.5 37.2 L441.5 36.6 L441.6 36 L441.6 35.4 L441.7 34.8 L441.8 34.2 L441.8 33.6 L441.9 33.1 L442 32.2 L442.1 31.3 L442.2 30.4 L442.3 29.4 L442.4 28.5 L442.4 27.7 L442.5 26.9 L442.6 26.1 L442.7 25.5 L442.9 25 L443 24.5 L443.2 24.2 L443.4 24.1 L443.9 24.2 L444.4 24.7 L444.9 25.4 L445.4 26.3 L445.6 26.7 L445.8 27.2 L445.9 27.7 L446.1 28.3 L446.2 28.9 L446.3 29.6 L446.5 30.3 L446.6 31 L446.7 31.8 L446.8 32.6 L446.9 33.4 L447 34.2 L447.1 35 L447.2 35.8 L447.3 36.7 L447.4 37.5 L447.5 38.3 L447.7 39.1 L447.8 39.9 L447.9 40.7 L448 41.4 L448.1 42 L448.2 42.7 L448.3 43.4 L448.4 44.1 L448.6 44.8 L448.7 45.5 L448.8 46.2 L448.9 46.9 L449 47.6 L449.1 48.3 L449.2 49 L449.3 49.7 L449.4 50.4 L449.5 51.2 L449.7 51.9 L449.8 52.6 L449.9 53.3 L450 54 L450.1 54.7 L450.2 55.4 L450.4 56.1 L450.5 56.8 L450.6 57.5 L450.8 58.1 L450.9 58.8 L451 59.5 L451.2 60.2 L451.3 61 L451.5 61.7 L451.7 62.4 L451.8 63.1 L452 63.8 L452.1 64.5 L452.3 65.2 L452.4 65.9 L452.6 66.6 L452.8 67.3 L452.9 68 L453.1 68.7 L453.3 69.3 L453.5 70 L453.7 70.7 L453.9 71.3 L454.1 72 L454.3 72.6 L454.5 73.3 L454.7 73.9 L455 74.6 L455.2 75.3 L455.5 76.1 L455.8 76.8 L456.1 77.5 L456.4 78.1 L456.6 78.8 L457 79.5 L457.3 80.2 L457.6 80.8 L457.9 81.5 L458.2 82.1 L458.6 82.8 L458.9 83.4 L459.3 84 L459.6 84.6 L460 85.2 L460.4 85.8 L460.8 86.4 L461.2 87 L461.6 87.6 L462 88.2 L462.4 88.8 L462.9 89.4 L463.3 90 L463.8 90.5 L464.2 91 L464.7 91.6 L465.2 92.1 L465.7 92.6 L466.2 93 L466.8 93.5 L467.4 93.9 L468 94.3 L468.6 94.8 L469.2 95.1 L469.8 95.5 L470.5 95.9 L471.2 96.2 L471.9 96.5 L472.5 96.9 L473.2 97.2 L473.9 97.5 L474.6 97.8 L475.3 98 L476 98.3 L476.7 98.6 L477.4 98.8 L478.1 99 L478.8 99.3 L479.5 99.5 L480.2 99.7 L480.9 99.9 L481.5 100.1 L482.2 100.2 L482.9 100.4 L483.6 100.5 L484.3 100.7 L485.1 100.8 L485.8 100.9 L486.5 101.1 L487.2 101.2 L487.9 101.3 L488.6 101.4 L489.3 101.5 L490 101.6 L490.7 101.6 L491.5 101.7 L492.2 101.7 L492.9 101.7 L493.7 101.8 L494.4 101.8 L495.1 101.8 L495.8 101.9 L496.5 101.9 L497.2 102 L497.9 102 L498.6 102.1 L499.2 102.2 L500 102.3 L500.7 102.4 L501.4 102.6 L502.1 102.7 L502.8 102.8 L503.5 103 L504.2 103.1 L504.9 103.3 L505.5 103.6 L506.2 103.8 L506.8 104.1 L507.4 104.4 L508 104.8 L508.6 105.2 L509.2 105.6 L509.7 106 L510.3 106.5 L510.8 107 L511.3 107.5 L511.9 108 L512.4 108.5 L512.9 109 L513.4 109.5 L513.9 110.1 L514.3 110.6 L514.8 111.2 L515.3 111.8 L515.7 112.4 L516.1 113 L516.6 113.6 L517 114.2 L517.4 114.8 L517.9 115.3 L518.3 115.9 L518.8 116.5 L519.2 117.2 L519.7 117.9 L520.1 118.5 L520.6 119.2 L521 119.8 L521.5 120.4 L521.9 121 L522.4 121.5 L522.9 122 L523.5 122.5 L524.1 122.9 L524.7 123.3 L525.3 123.7 L526 124 L526.7 124.2 L527.4 124.3 L528 124.3 L528.7 124.3 L529.3 124.2 L530 124.1 L530.7 123.9 L531.4 123.7 L532.1 123.5 L532.8 123.3 L533.6 123 L534.3 122.8 L534.9 122.6 L535.5 122.4 L536.2 122.1 L536.8 121.8 L537.4 121.6 L538.1 121.3 L538.7 121 L539.4 120.7 L540.1 120.4 L540.7 120.1 L541.4 119.8 L542.1 119.5 L542.8 119.2 L543.5 119 L544.2 118.8 L544.8 118.6 L545.5 118.4 L546.2 118.2 L546.9 117.9 L547.6 117.7 L548.3 117.6 L549.1 117.4 L549.8 117.2 L550.5 117 L551.2 116.8 L552 116.7 L552.7 116.5 L553.5 116.3 L554.2 116.2 L555 116 L555.7 115.9 L556.4 115.8 L557.1 115.7 L557.8 115.6 L558.6 115.5 L559.3 115.4 L560 115.3 L560.8 115.2 L561.5 115.1 L562.2 115.1 L563 115 L563.7 114.9 L564.5 114.9 L565.2 114.8 L565.9 114.8 L566.7 114.7 L567.4 114.6 L568.1 114.6 L568.8 114.5 L569.5 114.4 L570.3 114.3 L571 114.2 L571.8 114.1 L572.5 114 L573.2 113.9 L574 113.8 L574.7 113.8 L575.4 113.7 L576.1 113.6 L576.9 113.5 L577.6 113.4 L578.3 113.3 L579 113.2 L579.7 113.1 L580.5 113 L581.2 112.9" stroke="#f00" stroke-width="2.0" fill="none" stroke-linejoin="round"/>
<path d="M34.7 383.1 L35.4 383.1 L36.1 383 L36.8 383 L37.5 383 L38.2 382.9 L38.9 382.9 L39.6 382.8 L40.3 382.8 L41 382.7 L41.7 382.7 L42.4 382.7 L43.1 382.6 L43.8 382.6 L44.5 382.6 L45.2 382.6 L45.9 382.6 L46.6 382.7 L47.3 382.7 L48 382.8 L48.8 382.8 L49.5 382.9 L50.2 383 L51 383.1 L51.7 383.2 L52.4 383.3 L53.2 383.4 L53.9 383.6 L54.6 383.7 L55.3 383.8 L56 384 L56.7 384.2 L57.5 384.3 L58.2 384.5 L58.9 384.7 L59.6 384.9 L60.3 385.1 L61 385.3 L61.6 385.6 L62.3 385.8 L63 386.1 L63.6 386.3 L64.3 386.6 L65 386.9 L65.7 387.1 L66.3 387.4 L67 387.7 L67.7 387.9 L68.4 388.2 L69.1 388.4 L69.8 388.7 L70.5 388.9 L71.2 389.1 L71.9 389.3 L72.5 389.5 L73.2 389.8 L73.9 390 L74.6 390.2 L75.3 390.4 L76 390.6 L76.7 390.8 L77.4 391 L78.1 391.2 L78.8 391.4 L79.5 391.5 L80.3 391.7 L81 391.8 L81.7 391.9 L82.4 392 L83.1 392.1 L83.8 392.2 L84.5 392.2 L85.2 392.3 L85.9 392.3 L86.6 392.3 L87.3 392.3 L88 392.2 L88.7 392.2 L89.4 392.2 L90.2 392.1 L90.9 392 L91.6 391.9 L92.3 391.8 L93 391.7 L93.7 391.6 L94.4 391.5 L95.1 391.4 L95.7 391.3 L96.4 391.1 L97.1 391 L97.8 390.8 L98.5 390.7 L99.2 390.5 L100 390.3 L100.7 390.1 L101.4 389.9 L102.1 389.7 L102.8 389.5 L103.5 389.3 L104.1 389.1 L104.8 388.8 L105.5 388.6 L106.2 388.3 L106.8 388 L107.5 387.8 L108.2 387.5 L108.8 387.2 L109.5 386.9 L110.1 386.6 L110.8 386.3 L111.4 385.9 L112.1 385.6 L112.7 385.2 L113.4 384.8 L114 384.5 L114.6 384.1 L115.2 383.7 L115.8 383.3 L116.4 383 L117 382.6 L117.6 382.2 L118.2 381.8 L118.7 381.4 L119.3 381 L119.9 380.5 L120.5 380.1 L121.1 379.7 L121.7 379.2 L122.2 378.8 L122.8 378.3 L123.3 377.9 L123.8 377.4 L124.3 376.8 L124.8 376.3 L125.3 375.7 L125.7 375.2 L126.1 374.6 L126.5 374 L126.8 373.4 L127.2 372.8 L127.5 372.2 L127.9 371.5 L128.2 370.8 L128.5 370.1 L128.8 369.5 L129.1 368.7 L129.4 368 L129.7 367.3 L130 366.6 L130.3 365.8 L130.6 365.1 L130.8 364.5 L131.1 363.9 L131.3 363.2 L131.5 362.6 L131.8 361.9 L132 361.2 L132.2 360.6 L132.4 359.9 L132.6 359.2 L132.8 358.5 L133 357.8 L133.2 357.1 L133.4 356.4 L133.6 355.6 L133.8 354.9 L134 354.2 L134.2 353.5 L134.4 352.8 L134.6 352.1 L134.7 351.3 L134.9 350.6 L135.1 349.9 L135.3 349.2 L135.5 348.5 L135.7 347.8 L135.8 347.1 L136 346.5 L136.2 345.8 L136.3 345.1 L136.5 344.4 L136.7 343.6 L136.8 342.9 L137 342.2 L137.1 341.5 L137.3 340.8 L137.4 340.1 L137.6 339.4 L137.8 338.7 L137.9 338 L138.1 337.3 L138.2 336.6 L138.4 335.9 L138.5 335.2 L138.7 334.5 L138.8 333.9 L139 333.2 L139.1 332.6 L139.3 331.9 L139.5 331.1 L139.6 330.4 L139.8 329.6 L140 328.8 L140.1 328 L140.3 327.3 L140.4 326.5 L140.6 325.7 L140.8 325 L140.9 324.2 L141.1 323.5 L141.2 322.8 L141.4 322.1 L141.6 321.4 L141.8 320.8 L142 320.2 L142.2 319.6 L142.4 319.1 L142.6 318.6 L143 317.7 L143.5 316.9 L144 316.1 L144.5 315.5 L145 315.1 L145.5 314.9 L146 315 L146.6 315.5 L147.1 316.1 L147.6 316.8 L148.1 317.7 L148.6 318.6 L148.8 319.1 L149 319.6 L149.2 320.1 L149.4 320.7 L149.6 321.3 L149.7 322 L149.9 322.7 L150 323.4 L150.2 324.1 L150.3 324.8 L150.5 325.6 L150.6 326.3 L150.7 327.1 L150.9 327.9 L151 328.6 L151.1 329.4 L151.3 330.2 L151.4 331 L151.6 331.7 L151.7 332.5 L151.9 333.2 L152.1 333.9 L152.2 334.5 L152.4 335.2 L152.5 335.9 L152.7 336.6 L152.8 337.3 L153 338 L153.1 338.7 L153.3 339.4 L153.4 340.1 L153.6 340.8 L153.7 341.5 L153.9 342.2 L154 342.9 L154.2 343.6 L154.4 344.3 L154.5 345 L154.7 345.7 L154.9 346.4 L155 347.1 L155.2 347.8 L155.4 348.5 L155.5 349.2 L155.7 349.8 L155.9 350.5 L156.1 351.2 L156.3 352 L156.5 352.7 L156.7 353.4 L156.9 354.1 L157.1 354.9 L157.3 355.6 L157.5 356.3 L157.7 357 L157.9 357.7 L158.1 358.4 L158.3 359.1 L158.5 359.8 L158.8 360.5 L159 361.2 L159.2 361.9 L159.5 362.5 L159.7 363.2 L160 363.8 L160.2 364.5 L160.5 365.1 L160.8 365.8 L161.1 366.5 L161.4 367.2 L161.7 367.8 L162 368.5 L162.3 369.2 L162.7 369.8 L163 370.5 L163.3 371.1 L163.7 371.7 L164 372.3 L164.4 372.9 L164.8 373.5 L165.2 374.1 L165.6 374.6 L166 375.2 L166.5 375.7 L167 376.2 L167.5 376.7 L168 377.2 L168.5 377.7 L169.1 378.2 L169.7 378.7 L170.2 379.1 L170.8 379.5 L171.4 379.9 L172 380.3 L172.7 380.7 L173.3 381.1 L173.9 381.4 L174.5 381.8 L175.2 382.1 L175.8 382.4 L176.5 382.7 L177.1 383 L177.8 383.2 L178.5 383.4 L179.2 383.6 L179.9 383.8 L180.6 383.9 L181.3 384.1 L182 384.2 L182.7 384.4 L183.4 384.5 L184.2 384.6 L184.9 384.7 L185.7 384.9 L186.4 385 L187.1 385.1 L187.8 385.2 L188.5 385.3 L189.2 385.4 L189.9 385.5 L190.6 385.6 L191.4 385.7 L192.1 385.8 L192.8 385.9 L193.6 385.9 L194.3 386 L195 386.1 L195.8 386.1 L196.5 386.2 L197.2 386.2 L197.8 386.3 L198.5 386.3 L199.1 386.4 L199.7 386.4 L200.6 386.4 L201.3 386.4 L202.1 386.4 L202.8 386.4 L203.5 386.4 L204.3 386.4 L205 386.4 L205.8 386.4 L206.6 386.5 L207.2 386.6 L207.9 386.6 L208.6 386.7 L209.3 386.8 L210.1 386.9 L210.8 387 L211.6 387.1 L212.4 387.3 L213.1 387.4 L213.9 387.5 L214.6 387.7 L215.4 387.8 L216.1 388 L216.8 388.2 L217.5 388.3 L218.2 388.5 L219 388.7 L219.7 388.9 L220.4 389.2 L221.1 389.4 L221.8 389.7 L222.5 389.9 L223.2 390.2 L223.8 390.5 L224.5 390.7 L225.2 391 L225.8 391.3 L226.5 391.5 L227.2 391.8 L227.9 392.1 L228.7 392.4 L229.4 392.8 L230.1 393.1 L230.8 393.4 L231.4 393.6 L232.1 393.8 L232.8 394 L233.5 394 L234.2 393.9 L234.9 393.8 L235.6 393.6 L236.3 393.3 L236.9 392.9 L237.6 392.6 L238.3 392.2 L239 391.8 L239.8 391.5 L240.4 391.2 L241 390.9 L241.6 390.6 L242.2 390.3 L242.9 390 L243.5 389.7 L244.2 389.3 L244.8 389 L245.5 388.7 L246.2 388.3 L246.9 388 L247.6 387.7 L248.3 387.4 L249.1 387.1 L249.8 386.9 L250.4 386.7 L251.1 386.5 L251.7 386.4 L252.4 386.2 L253 386.1 L253.7 385.9 L254.4 385.8 L255.1 385.7 L255.8 385.6 L256.5 385.4 L257.2 385.3 L257.9 385.2 L258.6 385.1 L259.4 385 L260.1 384.9 L260.9 384.9 L261.7 384.8 L262.4 384.7 L263.2 384.6 L264 384.5 L264.8 384.4 L265.4 384.3 L266.1 384.3 L266.7 384.2 L267.3 384.1 L268 384.1 L268.7 384 L269.3 384 L270 383.9 L270.7 383.8 L271.4 383.8 L272.1 383.7 L272.8 383.7 L273.5 383.6 L274.2 383.6 L274.9 383.6 L275.7 383.5 L276.4 383.5 L277.1 383.4 L277.9 383.4 L278.6 383.3 L279.3 383.3 L280.1 383.3 L280.8 383.2 L281.5 383.2 L282.3 383.1 L283 383.1 L283.7 383.1 L284.5 383 L285.2 383 L285.9 382.9 L286.6 382.9 L287.4 382.8 L288.1 382.8 L288.8 382.7 L289.5 382.7" stroke="#f00" stroke-width="2.0" fill="none" stroke-linejoin="round"/>
<path d="M326.4 382.5 L327.1 382.5 L327.8 382.5 L328.5 382.6 L329.2 382.6 L330 382.6 L330.7 382.6 L331.4 382.7 L332.1 382.7 L332.8 382.7 L333.5 382.7 L334.3 382.8 L335 382.8 L335.7 382.8 L336.4 382.8 L337.1 382.9 L337.8 382.9 L338.5 382.9 L339.2 382.9 L339.9 382.9 L340.6 382.9 L341.3 382.9 L342 382.9 L342.8 382.9 L343.5 382.9 L344.3 382.9 L345 382.9 L345.8 382.9 L346.5 382.9 L347.3 382.8 L348 382.8 L348.8 382.8 L349.5 382.8 L350.3 382.8 L351 382.7 L351.7 382.7 L352.4 382.7 L353.1 382.6 L353.9 382.5 L354.5 382.5 L355.2 382.4 L355.9 382.3 L356.7 382.2 L357.4 382.1 L358.2 382 L358.9 381.9 L359.7 381.7 L360.4 381.6 L361.1 381.4 L361.8 381.3 L362.5 381.1 L363.2 380.9 L363.9 380.7 L364.6 380.5 L365.3 380.2 L365.9 379.9 L366.5 379.6 L367.1 379.3 L367.7 378.9 L368.3 378.5 L368.9 378.1 L369.5 377.7 L370.1 377.3 L370.6 376.9 L371.2 376.4 L371.7 375.9 L372.2 375.4 L372.8 374.9 L373.3 374.4 L373.8 373.9 L374.3 373.4 L374.7 372.9 L375.1 372.3 L375.6 371.8 L376 371.2 L376.4 370.6 L376.8 370 L377.2 369.3 L377.6 368.7 L378 368.1 L378.4 367.5 L378.8 366.8 L379.2 366.2 L379.6 365.6 L380 365 L380.4 364.5 L380.8 363.9 L381.3 363.2 L381.7 362.5 L382.2 361.8 L382.7 361 L383.1 360.2 L383.6 359.5 L384 358.8 L384.5 358.1 L385 357.5 L385.4 357.1 L385.9 356.7 L386.3 356.4 L386.8 356.3 L387.4 356.4 L387.9 356.6 L388.5 357 L389.1 357.5 L389.6 358.1 L390.2 358.7 L390.7 359.4 L391.3 360.2 L391.8 360.9 L392.1 361.4 L392.5 361.9 L392.8 362.5 L393.1 363 L393.4 363.7 L393.6 364.3 L393.9 365 L394.2 365.6 L394.5 366.3 L394.8 367 L395 367.8 L395.3 368.5 L395.6 369.2 L395.9 369.9 L396.2 370.6 L396.5 371.3 L396.8 372 L397.1 372.6 L397.5 373.3 L397.8 373.9 L398.2 374.5 L398.5 375.1 L398.9 375.7 L399.3 376.4 L399.7 377 L400.1 377.6 L400.5 378.2 L400.9 378.7 L401.3 379.3 L401.7 379.9 L402.1 380.5 L402.5 381.1 L403 381.6 L403.4 382.2 L403.8 382.7 L404.3 383.2 L404.8 383.8 L405.2 384.3 L405.7 384.8 L406.2 385.3 L406.7 385.8 L407.2 386.3 L407.8 386.8 L408.3 387.2 L408.9 387.7 L409.4 388.1 L410 388.6 L410.5 389 L411.1 389.4 L411.7 389.9 L412.3 390.3 L412.8 390.7 L413.4 391.1 L414 391.5 L414.6 392 L415.1 392.4 L415.7 392.8 L416.3 393.2 L416.9 393.7 L417.5 394.1 L418 394.5 L418.6 394.9 L419.2 395.3 L419.8 395.7 L420.4 396.1 L421 396.6 L421.6 397 L422.2 397.4 L422.8 397.8 L423.3 398.2 L423.9 398.6 L424.5 399 L425.1 399.4 L425.7 399.8 L426.3 400.2 L426.9 400.6 L427.4 401 L428 401.5 L428.6 401.9 L429.2 402.3 L429.7 402.7 L430.3 403.2 L430.9 403.6 L431.5 404 L432 404.4 L432.6 404.8 L433.2 405.2 L433.8 405.6 L434.4 406 L435 406.4 L435.6 406.8 L436.2 407.2 L436.8 407.6 L437.5 408 L438.1 408.4 L438.7 408.8 L439.4 409.2 L440 409.6 L440.7 410 L441.3 410.4 L442 410.7 L442.6 411.1 L443.3 411.4 L443.9 411.8 L444.6 412.1 L445.2 412.4 L445.9 412.6 L446.5 412.9 L447.2 413.1 L447.9 413.4 L448.6 413.6 L449.4 413.7 L450.1 413.9 L450.8 414 L451.5 414.2 L452.2 414.3 L452.9 414.4 L453.6 414.5 L454.3 414.6 L455 414.7 L455.7 414.9 L456.4 415 L457.2 415.1 L457.9 415.3 L458.7 415.4 L459.5 415.5 L460.2 415.6 L461 415.7 L461.7 415.8 L462.5 416 L463.2 416.1 L463.8 416.3 L464.5 416.6 L465.2 416.9 L465.8 417.2 L466.4 417.6 L467 417.9 L467.6 418.3 L468.2 418.7 L468.8 419.2 L469.3 419.7 L469.8 420.2 L470.3 420.7 L470.7 421.2 L471.1 421.7 L471.5 422.3 L471.8 422.9 L472.1 423.5 L472.4 424.1 L472.7 424.7 L473 425.4 L473.3 426.1 L473.6 426.8 L473.9 427.5 L474.1 428.2 L474.4 428.9 L474.6 429.5 L474.8 430.1 L475 430.7 L475.2 431.4 L475.4 432 L475.6 432.7 L475.8 433.4 L475.9 434 L476.1 434.7 L476.3 435.4 L476.4 436.1 L476.6 436.8 L476.7 437.5 L476.9 438.3 L477 439 L477.2 439.7 L477.3 440.5 L477.5 441.2 L477.6 442 L477.7 442.6 L477.8 443.3 L477.9 443.9 L478 444.6 L478.1 445.3 L478.2 445.9 L478.3 446.6 L478.4 447.3 L478.5 448 L478.6 448.7 L478.7 449.4 L478.8 450.1 L478.9 450.8 L479 451.5 L479.1 452.3 L479.1 453 L479.2 453.7 L479.3 454.4 L479.4 455.2 L479.5 455.9 L479.5 456.6 L479.6 457.3 L479.7 458 L479.8 458.8 L479.9 459.5 L479.9 460.2 L480 460.9 L480.1 461.6 L480.2 462.3 L480.3 463 L480.3 463.7 L480.4 464.5 L480.5 465.2 L480.6 465.9 L480.7 466.7 L480.7 467.4 L480.8 468.2 L480.9 468.9 L481 469.7 L481 470.4 L481.1 471.1 L481.2 471.9 L481.3 472.6 L481.3 473.3 L481.4 474 L481.5 474.8 L481.6 475.5 L481.6 476.1 L481.7 476.8 L481.8 477.5 L481.9 478.2 L481.9 478.8 L482 479.4 L482.1 480 L482.1 480.6 L482.2 481.2 L482.3 482.1 L482.4 483.1 L482.5 484.1 L482.6 485.1 L482.7 486.1 L482.8 487 L482.9 487.9 L483 488.7 L483.1 489.3 L483.2 489.8 L483.3 490.1 L483.4 490.2 L483.5 490.1 L483.6 489.9 L483.7 489.5 L483.9 488.9 L484 488.3 L484.1 487.6 L484.3 486.7 L484.4 485.9 L484.5 484.9 L484.6 484 L484.8 483.1 L484.9 482.1 L485 481.2 L485.1 480.7 L485.1 480.2 L485.2 479.6 L485.3 479.1 L485.3 478.5 L485.4 477.9 L485.4 477.3 L485.5 476.7 L485.6 476.1 L485.6 475.4 L485.7 474.8 L485.7 474.1 L485.8 473.4 L485.8 472.7 L485.9 472 L486 471.3 L486 470.6 L486.1 469.9 L486.1 469.1 L486.2 468.4 L486.2 467.7 L486.3 466.9 L486.4 466.2 L486.4 465.4 L486.5 464.6 L486.5 463.9 L486.6 463.1 L486.6 462.3 L486.7 461.6 L486.7 460.8 L486.8 460 L486.8 459.3 L486.9 458.5 L487 457.7 L487 457 L487.1 456.2 L487.1 455.5 L487.2 454.7 L487.2 454 L487.3 453.3 L487.3 452.5 L487.4 451.8 L487.5 451.1 L487.5 450.4 L487.6 449.7 L487.6 449 L487.7 448.3 L487.7 447.5 L487.8 446.8 L487.8 446.1 L487.9 445.4 L487.9 444.6 L488 443.9 L488 443.1 L488 442.4 L488.1 441.7 L488.1 440.9 L488.2 440.2 L488.2 439.4 L488.3 438.7 L488.3 437.9 L488.4 437.2 L488.4 436.4 L488.5 435.7 L488.5 434.9 L488.6 434.2 L488.6 433.5 L488.7 432.7 L488.7 432 L488.8 431.3 L488.8 430.5 L488.9 429.8 L488.9 429.1 L489 428.4 L489 427.7 L489.1 427 L489.2 426.3 L489.2 425.6 L489.3 424.9 L489.3 424.2 L489.4 423.6 L489.5 422.9 L489.5 422.2 L489.6 421.6 L489.7 421 L489.7 420.3 L489.8 419.7 L489.9 419.1 L490 418.3 L490.1 417.5 L490.2 416.7 L490.3 415.9 L490.4 415.1 L490.5 414.4 L490.6 413.6 L490.7 412.8 L490.8 412.1 L490.9 411.3 L491 410.6 L491.1 409.9 L491.2 409.1 L491.3 408.4 L491.4 407.7 L491.5 407.1 L491.7 406.4 L491.8 405.7 L491.9 405.1 L492.1 404.5 L492.2 403.9 L492.4 403.3 L492.6 402.7 L492.8 402.1 L493 401.6 L493.2 401.1 L493.6 400.3 L493.9 399.6 L494.3 398.8 L494.7 398.2 L495.1 397.5 L495.6 396.9 L496 396.3 L496.5 395.8 L497 395.3 L497.5 394.9 L498.1 394.5 L498.7 394.2 L499.4 393.9 L500 393.7 L500.7 393.5 L501.4 393.4 L502.2 393.3 L502.9 393.2 L503.7 393.1 L504.6 393 L505.4 392.9 L506 392.8 L506.6 392.7 L507.3 392.7 L508 392.6 L508.7 392.5 L509.4 392.4 L510.1 392.4 L510.8 392.3 L511.6 392.2 L512.3 392.2 L513.1 392.1 L513.9 392.1 L514.6 392 L515.4 392 L516.2 392 L517 391.9 L517.7 391.9 L518.5 391.9 L519.2 391.8 L520 391.8 L520.7 391.8 L521.4 391.8 L522.1 391.8 L522.8 391.8 L523.6 391.9 L524.3 391.9 L525 391.9 L525.8 392 L526.5 392 L527.3 392.1 L528 392.2 L528.7 392.2 L529.5 392.2 L530.2 392.3 L530.9 392.3 L531.6 392.3 L532.3 392.3 L533 392.3 L533.6 392.3 L534.3 392.2 L534.9 392.2 L535.5 392.1 L536.1 392 L536.9 391.8 L537.7 391.6 L538.4 391.4 L539.1 391.2 L539.8 391 L540.5 390.7 L541.2 390.4 L541.8 390.1 L542.4 389.7 L543 389.3 L543.6 388.9 L544.2 388.4 L544.7 388 L545.1 387.5 L545.6 387 L546 386.4 L546.4 385.8 L546.8 385.2 L547.2 384.6 L547.5 384 L547.9 383.3 L548.2 382.6 L548.6 381.9 L548.9 381.2 L549.2 380.5 L549.6 379.8 L549.9 379 L550.2 378.3 L550.4 377.7 L550.7 377.1 L550.9 376.4 L551.1 375.8 L551.4 375.1 L551.6 374.4 L551.8 373.7 L552 373 L552.2 372.3 L552.4 371.5 L552.5 370.8 L552.7 370 L552.9 369.3 L553.1 368.5 L553.3 367.8 L553.5 367.1 L553.6 366.3 L553.8 365.6 L554 364.9 L554.2 364.1 L554.4 363.4 L554.5 362.8 L554.7 362.1 L554.9 361.4 L555.1 360.8 L555.3 360.2 L555.6 359.4 L555.8 358.5 L556.1 357.6 L556.3 356.7 L556.6 355.8 L556.9 354.8 L557.1 354 L557.4 353.1 L557.7 352.4 L557.9 351.7 L558.2 351 L558.5 350.5 L558.7 350.1 L559 349.9 L559.3 349.8 L559.6 349.9 L559.9 350.1 L560.3 350.5 L560.6 351.1 L560.9 351.7 L561.2 352.4 L561.6 353.2 L561.9 354 L562.3 354.8 L562.6 355.7 L562.9 356.5 L563.3 357.2 L563.6 357.8 L563.9 358.4 L564.1 359 L564.4 359.6 L564.7 360.3 L565 361 L565.3 361.7 L565.6 362.3 L565.9 363 L566.2 363.7 L566.5 364.5 L566.8 365.2 L567.1 365.8 L567.4 366.5 L567.7 367.2 L568 367.9 L568.3 368.5 L568.6 369.1 L569 369.7 L569.3 370.3 L569.7 371 L570.1 371.6 L570.5 372.2 L571 372.8 L571.4 373.5 L571.8 374 L572.3 374.6 L572.7 375.2 L573.1 375.7 L573.6 376.3 L574 376.8 L574.5 377.3 L574.9 377.8 L575.4 378.3 L575.9 378.8 L576.4 379.3 L577 379.8 L577.5 380.3 L578 380.7 L578.5 381.2 L579.1 381.6 L579.6 382.1 L580.1 382.5 L580.7 382.9 L581.2 383.4" stroke="#f00" stroke-width="2.0" fill="none" stroke-linejoin="round"/>
<path d="M34.7 652.5 L35.4 652.5 L36.1 652.5 L36.9 652.4 L37.6 652.4 L38.3 652.4 L39.1 652.4 L39.8 652.4 L40.5 652.4 L41.2 652.4 L42 652.4 L42.7 652.4 L43.4 652.4 L44.2 652.3 L44.9 652.3 L45.6 652.3 L46.3 652.3 L47 652.2 L47.8 652.2 L48.5 652.1 L49.2 652.1 L49.9 652 L50.6 651.9 L51.3 651.8 L52 651.7 L52.7 651.6 L53.4 651.5 L54.2 651.3 L54.9 651.2 L55.6 651.1 L56.3 650.9 L57.1 650.8 L57.8 650.6 L58.5 650.4 L59.2 650.3 L59.9 650.1 L60.6 649.9 L61.3 649.7 L62 649.5 L62.7 649.3 L63.3 649.1 L64 648.9 L64.6 648.6 L65.2 648.4 L65.8 648.2 L66.4 647.9 L67.1 647.6 L67.8 647.2 L68.5 646.8 L69.2 646.4 L69.8 646 L70.4 645.6 L71 645.2 L71.6 644.8 L72.2 644.4 L72.8 643.9 L73.3 643.5 L73.9 643 L74.4 642.6 L75 642.1 L75.6 641.6 L76.1 641 L76.7 640.4 L77.2 639.7 L77.7 639.1 L78.2 638.4 L78.7 637.8 L79.2 637.2 L79.7 636.7 L80.2 636.2 L80.6 635.9 L81.1 635.7 L81.5 635.6 L82.1 635.7 L82.7 636.1 L83.2 636.6 L83.7 637.3 L84.2 638.1 L84.7 638.9 L84.9 639.3 L85.1 639.8 L85.3 640.4 L85.5 641 L85.6 641.6 L85.8 642.3 L85.9 642.9 L86.1 643.6 L86.2 644.4 L86.3 645.1 L86.4 645.9 L86.6 646.7 L86.7 647.4 L86.8 648.2 L86.9 649 L87.1 649.8 L87.2 650.5 L87.3 651.3 L87.5 652 L87.6 652.7 L87.8 653.4 L88 654 L88.2 654.8 L88.4 655.5 L88.6 656.3 L88.8 657.1 L89 657.9 L89.2 658.7 L89.5 659.4 L89.7 660.2 L89.9 660.9 L90.2 661.6 L90.5 662.3 L90.8 662.9 L91.1 663.4 L91.5 664 L91.9 664.4 L92.3 664.8 L92.9 665.2 L93.5 665.4 L94.1 665.6 L94.8 665.8 L95.5 665.8 L96.2 665.9 L97 665.9 L97.7 665.9 L98.5 665.8 L99.3 665.8 L100.1 665.9 L100.9 665.9 L101.6 665.9 L102.2 666 L102.9 666 L103.6 666 L104.4 666 L105.1 666 L105.8 666 L106.6 666 L107.3 666 L108.1 666 L108.8 666.1 L109.6 666.1 L110.3 666.1 L111.1 666.1 L111.8 666.2 L112.5 666.3 L113.2 666.4 L113.9 666.5 L114.6 666.6 L115.3 666.8 L116.1 666.9 L116.8 667.1 L117.5 667.3 L118.2 667.5 L118.9 667.7 L119.6 667.9 L120.3 668.1 L120.9 668.4 L121.6 668.6 L122.2 668.9 L122.9 669.2 L123.5 669.5 L124.1 669.8 L124.7 670.2 L125.3 670.6 L125.9 671 L126.4 671.4 L127 671.8 L127.5 672.3 L128.1 672.7 L128.6 673.2 L129.1 673.7 L129.6 674.2 L130.1 674.7 L130.5 675.3 L131 675.9 L131.4 676.5 L131.9 677.1 L132.3 677.7 L132.6 678.2 L133 678.8 L133.3 679.4 L133.6 680 L133.9 680.6 L134.2 681.2 L134.5 681.9 L134.7 682.5 L135 683.2 L135.3 683.9 L135.5 684.6 L135.8 685.3 L136 686 L136.2 686.7 L136.5 687.4 L136.7 688.1 L136.9 688.8 L137.1 689.5 L137.3 690.3 L137.5 691 L137.7 691.7 L137.9 692.4 L138.1 693.1 L138.3 693.8 L138.5 694.5 L138.6 695.2 L138.8 695.9 L138.9 696.6 L139.1 697.3 L139.2 698 L139.3 698.7 L139.5 699.4 L139.6 700.1 L139.7 700.8 L139.8 701.5 L139.9 702.3 L140 703 L140.1 703.7 L140.3 704.4 L140.4 705.1 L140.5 705.9 L140.6 706.6 L140.7 707.3 L140.8 708 L140.9 708.8 L141 709.5 L141.1 710.2 L141.2 710.9 L141.3 711.6 L141.4 712.3 L141.5 713 L141.6 713.7 L141.7 714.4 L141.9 715.1 L142 715.8 L142.1 716.6 L142.2 717.3 L142.3 718 L142.4 718.7 L142.5 719.4 L142.6 720.2 L142.7 720.9 L142.8 721.6 L142.9 722.3 L143 723 L143 723.7 L143.1 724.4 L143.2 725 L143.3 725.7 L143.4 726.4 L143.5 727 L143.5 727.7 L143.6 728.3 L143.7 729.1 L143.8 730 L143.8 730.9 L143.9 731.8 L143.9 732.8 L144 733.7 L144 734.6 L144.1 735.6 L144.1 736.4 L144.2 737.2 L144.2 738 L144.3 738.7 L144.3 739.3 L144.4 739.7 L144.4 740.1 L144.5 740.3 L144.6 740.4 L144.8 740.2 L145 739.5 L145.2 738.6 L145.4 737.5 L145.6 736.4 L145.7 735.9 L145.7 735.4 L145.8 734.8 L145.9 734.3 L145.9 733.7 L146 733 L146 732.4 L146 731.7 L146.1 731 L146.1 730.3 L146.2 729.5 L146.2 728.8 L146.2 728 L146.3 727.2 L146.3 726.5 L146.3 725.7 L146.4 724.9 L146.4 724.1 L146.4 723.3 L146.5 722.6 L146.5 721.8 L146.6 721 L146.6 720.3 L146.6 719.6 L146.7 718.9 L146.7 718.2 L146.7 717.5 L146.8 716.8 L146.8 716.1 L146.9 715.4 L146.9 714.7 L146.9 714 L147 713.3 L147 712.5 L147 711.8 L147.1 711.1 L147.1 710.3 L147.1 709.6 L147.2 708.9 L147.2 708.1 L147.2 707.4 L147.3 706.7 L147.3 705.9 L147.4 705.2 L147.4 704.5 L147.4 703.7 L147.5 703 L147.5 702.3 L147.5 701.5 L147.6 700.8 L147.6 700.1 L147.6 699.4 L147.7 698.7 L147.7 698 L147.7 697.3 L147.8 696.6 L147.8 695.8 L147.8 695.1 L147.9 694.4 L147.9 693.8 L147.9 693.1 L147.9 692.4 L148 691.7 L148 691 L148 690.3 L148.1 689.5 L148.1 688.8 L148.1 688.1 L148.2 687.4 L148.2 686.7 L148.2 686 L148.3 685.3 L148.3 684.5 L148.4 683.8 L148.4 683 L148.4 682.3 L148.5 681.5 L148.5 680.8 L148.6 680 L148.6 679.3 L148.7 678.7 L148.7 678 L148.8 677.3 L148.8 676.6 L148.9 675.9 L148.9 675.2 L148.9 674.4 L149 673.7 L149 672.9 L149.1 672.2 L149.1 671.4 L149.1 670.7 L149.2 669.9 L149.2 669.1 L149.3 668.3 L149.3 667.6 L149.4 666.8 L149.4 666 L149.5 665.3 L149.5 664.5 L149.6 663.7 L149.7 663 L149.7 662.2 L149.8 661.5 L149.8 660.8 L149.9 660 L150 659.3 L150.1 658.6 L150.1 657.9 L150.2 657.3 L150.3 656.6 L150.4 656 L150.5 655.3 L150.6 654.7 L150.7 654.2 L150.8 653.6 L151 653 L151.1 652.5 L151.2 652 L151.4 651.1 L151.7 650.2 L151.9 649.3 L152.1 648.5 L152.4 647.7 L152.7 646.9 L152.9 646.1 L153.2 645.5 L153.6 644.9 L153.9 644.3 L154.3 643.9 L154.7 643.5 L155.1 643.3 L155.6 643.2 L156.2 643.2 L156.8 643.4 L157.4 643.7 L158.1 644 L158.7 644.4 L159.4 644.8 L160.1 645.2 L160.9 645.6 L161.6 646 L162.2 646.2 L162.8 646.5 L163.4 646.8 L164 647 L164.7 647.3 L165.3 647.6 L166 647.9 L166.7 648.2 L167.3 648.5 L168 648.8 L168.7 649.1 L169.4 649.5 L170.1 649.8 L170.7 650.1 L171.4 650.4 L172.1 650.7 L172.7 651.1 L173.3 651.4 L174 651.8 L174.6 652.1 L175.3 652.5 L175.9 652.8 L176.6 653.2 L177.2 653.5 L177.9 653.9 L178.5 654.2 L179.1 654.6 L179.7 655 L180.3 655.4 L180.9 655.8 L181.5 656.3 L182.1 656.7 L182.6 657.2 L183.1 657.7 L183.6 658.2 L184.1 658.7 L184.6 659.2 L185 659.8 L185.5 660.3 L186 660.9 L186.4 661.5 L186.8 662.1 L187.2 662.7 L187.6 663.3 L188 663.9 L188.4 664.5 L188.8 665.2 L189.1 665.8 L189.5 666.5 L189.8 667.1 L190.1 667.7 L190.4 668.4 L190.6 669 L190.9 669.7 L191.1 670.3 L191.3 671 L191.5 671.7 L191.8 672.4 L192 673.1 L192.2 673.8 L192.4 674.5 L192.6 675.2 L192.8 675.9 L193 676.6 L193.2 677.3 L193.4 678 L193.6 678.7 L193.8 679.4 L194 680 L194.3 680.7 L194.5 681.4 L194.8 682.2 L195 682.9 L195.3 683.6 L195.6 684.2 L195.8 684.9 L196.1 685.6 L196.3 686.3 L196.6 687 L196.9 687.7 L197.1 688.3 L197.4 689 L197.6 689.7 L197.9 690.4 L198.1 691.1 L198.3 691.8 L198.6 692.5 L198.8 693.3 L199 694 L199.2 694.8 L199.4 695.5 L199.7 696.3 L199.9 697.1 L200.1 697.8 L200.3 698.5 L200.5 699.2 L200.7 699.9 L200.9 700.5 L201.2 701.1 L201.4 701.6 L201.6 702.1 L202 702.9 L202.4 703.7 L202.8 704.3 L203.2 704.8 L203.6 705 L204.2 704.8 L204.8 704.3 L205.5 703.6 L206.1 702.7 L206.4 702.3 L206.6 701.8 L206.9 701.2 L207.1 700.7 L207.4 700 L207.6 699.4 L207.9 698.7 L208.1 698 L208.4 697.3 L208.6 696.5 L208.8 695.8 L209.1 695 L209.3 694.3 L209.6 693.5 L209.8 692.8 L210.1 692.1 L210.3 691.5 L210.6 690.8 L210.8 690.2 L211 689.5 L211.3 688.8 L211.5 688.1 L211.8 687.5 L212 686.8 L212.2 686.1 L212.5 685.4 L212.7 684.7 L213 684 L213.2 683.3 L213.5 682.7 L213.7 682 L214 681.4 L214.3 680.8 L214.5 680.1 L214.8 679.6 L215.1 679 L215.5 678.3 L215.8 677.5 L216.2 676.8 L216.6 676.1 L216.9 675.4 L217.3 674.8 L217.7 674.1 L218.1 673.5 L218.6 672.9 L219 672.4 L219.5 671.9 L220 671.5 L220.6 671.1 L221.2 670.7 L221.9 670.3 L222.6 670 L223.3 669.7 L224 669.5 L224.7 669.4 L225.4 669.3 L226.1 669.2 L226.7 669.3 L227.4 669.5 L228 669.8 L228.7 670.2 L229.3 670.7 L229.9 671.2 L230.4 671.8 L231 672.4 L231.5 673 L231.9 673.5 L232.3 674.1 L232.7 674.6 L233.1 675.2 L233.4 675.8 L233.8 676.5 L234.1 677.2 L234.4 677.8 L234.7 678.5 L235 679.3 L235.3 680 L235.5 680.6 L235.7 681.2 L235.9 681.9 L236.1 682.5 L236.3 683.2 L236.4 683.9 L236.6 684.6 L236.7 685.3 L236.8 686 L237 686.7 L237.1 687.5 L237.2 688.2 L237.3 689 L237.5 689.8 L237.6 690.5 L237.7 691.3 L237.8 692.1 L237.9 692.8 L238 693.4 L238.1 694.1 L238.1 694.8 L238.2 695.5 L238.3 696.2 L238.4 696.9 L238.4 697.6 L238.5 698.3 L238.5 699 L238.6 699.8 L238.7 700.5 L238.7 701.2 L238.8 702 L238.8 702.7 L238.9 703.5 L238.9 704.2 L239 705 L239 705.7 L239.1 706.5 L239.1 707.2 L239.2 708 L239.2 708.7 L239.3 709.5 L239.3 710.2 L239.3 710.9 L239.4 711.6 L239.4 712.3 L239.5 713.1 L239.5 713.8 L239.6 714.5 L239.6 715.3 L239.6 716 L239.7 716.8 L239.7 717.5 L239.8 718.3 L239.8 719 L239.8 719.8 L239.9 720.5 L239.9 721.2 L239.9 722 L240 722.7 L240 723.5 L240 724.2 L240.1 724.9 L240.1 725.6 L240.1 726.3 L240.2 727 L240.2 727.7 L240.2 728.4 L240.2 729 L240.3 729.7 L240.3 730.3 L240.3 731.1 L240.4 732 L240.4 732.9 L240.4 733.9 L240.5 734.8 L240.5 735.8 L240.5 736.7 L240.5 737.6 L240.6 738.5 L240.6 739.3 L240.6 740 L240.6 740.7 L240.7 741.3 L240.7 741.8 L240.7 742.1 L240.8 742.3 L240.8 742.4 L240.8 742.3 L240.9 742.1 L240.9 741.8 L241 741.3 L241 740.7 L241 740.1 L241.1 739.4 L241.1 738.6 L241.2 737.7 L241.2 736.8 L241.2 735.9 L241.3 734.9 L241.3 734 L241.4 733 L241.4 732.1 L241.5 731.2 L241.5 730.3 L241.5 729.7 L241.6 729.1 L241.6 728.5 L241.6 727.8 L241.6 727.2 L241.7 726.5 L241.7 725.9 L241.7 725.2 L241.7 724.5 L241.8 723.8 L241.8 723.1 L241.8 722.4 L241.8 721.6 L241.9 720.9 L241.9 720.2 L241.9 719.4 L242 718.7 L242 717.9 L242 717.2 L242 716.4 L242.1 715.7 L242.1 714.9 L242.1 714.2 L242.1 713.4 L242.2 712.6 L242.2 711.9 L242.2 711.1 L242.2 710.4 L242.3 709.6 L242.3 708.9 L242.3 708.1 L242.3 707.4 L242.4 706.6 L242.4 705.9 L242.4 705.2 L242.4 704.5 L242.4 703.8 L242.5 703.1 L242.5 702.4 L242.5 701.7 L242.5 701 L242.5 700.3 L242.6 699.7 L242.6 699 L242.6 698.3 L242.6 697.6 L242.6 696.9 L242.7 696.2 L242.7 695.5 L242.7 694.8 L242.7 694.1 L242.7 693.5 L242.7 692.8 L242.8 692.1 L242.8 691.4 L242.8 690.7 L242.8 690 L242.8 689.3 L242.9 688.6 L242.9 687.9 L242.9 687.2 L242.9 686.5 L243 685.8 L243 685.1 L243 684.4 L243 683.6 L243.1 682.9 L243.1 682.2 L243.1 681.5 L243.2 680.7 L243.2 680 L243.2 679.3 L243.3 678.6 L243.3 677.9 L243.3 677.1 L243.3 676.4 L243.3 675.6 L243.3 674.8 L243.3 674 L243.3 673.2 L243.4 672.3 L243.4 671.5 L243.4 670.7 L243.4 669.8 L243.4 668.9 L243.4 668.1 L243.4 667.2 L243.4 666.4 L243.4 665.5 L243.4 664.6 L243.4 663.8 L243.4 662.9 L243.4 662.1 L243.4 661.3 L243.5 660.5 L243.5 659.7 L243.5 658.9 L243.6 658.1 L243.6 657.4 L243.6 656.6 L243.7 655.9 L243.8 655.2 L243.8 654.6 L243.9 653.9 L244 653.3 L244.1 652.7 L244.2 652.2 L244.3 651.6 L244.4 651.1 L244.5 650.7 L244.7 650.3 L244.8 649.9 L245 649.6 L245.1 649.3 L245.3 649 L245.9 648.4 L246.5 648.1 L247.2 647.9 L248 647.9 L248.8 647.9 L249.4 647.9 L249.9 648.1 L250.6 648.3 L251.2 648.5 L251.9 648.8 L252.5 649.1 L253.2 649.4 L254 649.7 L254.7 650 L255.5 650.3 L256.2 650.5 L257 650.7 L257.6 650.8 L258.3 651 L259 651.1 L259.6 651.2 L260.3 651.3 L261 651.4 L261.7 651.4 L262.5 651.5 L263.2 651.6 L264 651.6 L264.7 651.7 L265.5 651.8 L266.2 651.8 L267 651.9 L267.8 651.9 L268.5 652 L269.3 652 L270.1 652.1 L270.9 652.1 L271.6 652.1 L272.2 652.2 L272.9 652.2 L273.6 652.2 L274.3 652.3 L275 652.3 L275.7 652.3 L276.4 652.3 L277.1 652.4 L277.9 652.4 L278.6 652.4 L279.3 652.4 L280 652.4 L280.8 652.4 L281.5 652.5 L282.2 652.5 L283 652.5 L283.7 652.5 L284.4 652.5 L285.2 652.5 L285.9 652.5 L286.6 652.5 L287.3 652.5 L288.1 652.6 L288.8 652.6 L289.5 652.6" stroke="#f00" stroke-width="2.0" fill="none" stroke-linejoin="round"/>
<path d="M326.4 652.7 L327.1 652.7 L327.8 652.6 L328.6 652.6 L329.3 652.6 L330 652.5 L330.7 652.5 L331.4 652.4 L332.2 652.4 L332.9 652.4 L333.6 652.3 L334.3 652.3 L335.1 652.3 L335.8 652.2 L336.5 652.2 L337.2 652.1 L337.9 652.1 L338.6 652.1 L339.3 652 L340 652 L340.7 652 L341.4 651.9 L342.1 651.9 L342.9 651.9 L343.6 651.8 L344.4 651.7 L345.2 651.7 L346 651.6 L346.8 651.5 L347.5 651.4 L348.3 651.4 L349.1 651.3 L349.8 651.2 L350.5 651.2 L351.3 651.1 L352 651.1 L352.7 651.1 L353.3 651.1 L354 651.2 L354.6 651.2 L355.2 651.3 L356 651.5 L356.7 651.6 L357.4 651.9 L358.1 652.1 L358.7 652.4 L359.3 652.7 L359.9 653 L360.6 653.3 L361.2 653.7 L361.8 654.1 L362.3 654.5 L362.9 654.9 L363.5 655.4 L364 655.8 L364.6 656.3 L365.1 656.8 L365.7 657.3 L366.2 657.7 L366.8 658.1 L367.3 658.4 L368 658.8 L368.7 659.1 L369.4 659.5 L370.1 659.7 L370.8 660 L371.6 660.1 L372.3 660.2 L373 660.2 L373.7 660.1 L374.4 660 L375.2 659.8 L375.9 659.6 L376.7 659.3 L377.5 659.1 L378.3 658.8 L378.9 658.6 L379.5 658.4 L380.2 658.2 L380.8 658 L381.5 657.8 L382.2 657.5 L382.9 657.3 L383.5 657 L384.2 656.8 L384.9 656.5 L385.6 656.2 L386.3 656 L387 655.7 L387.7 655.5 L388.4 655.2 L389.1 655 L389.8 654.7 L390.5 654.5 L391.1 654.3 L391.8 654 L392.5 653.8 L393.2 653.6 L393.9 653.3 L394.6 653.1 L395.3 652.8 L395.9 652.6 L396.6 652.3 L397.3 652 L397.9 651.6 L398.5 651.3 L399.1 650.9 L399.8 650.5 L400.4 650.1 L401 649.7 L401.6 649.2 L402.2 648.8 L402.8 648.3 L403.4 647.8 L403.9 647.3 L404.5 646.8 L405 646.3 L405.5 645.8 L406 645.2 L406.5 644.7 L407 644.1 L407.4 643.6 L407.9 643 L408.3 642.4 L408.8 641.8 L409.2 641.2 L409.5 640.6 L409.9 640 L410.3 639.3 L410.6 638.7 L411 638 L411.3 637.3 L411.6 636.6 L411.9 636 L412.1 635.4 L412.3 634.7 L412.5 634.1 L412.7 633.4 L412.9 632.8 L413.1 632.1 L413.3 631.4 L413.4 630.7 L413.6 630 L413.8 629.3 L413.9 628.5 L414 627.8 L414.2 627 L414.3 626.2 L414.5 625.4 L414.6 624.6 L414.7 624 L414.8 623.4 L414.9 622.8 L415 622.2 L415 621.5 L415.1 620.9 L415.2 620.3 L415.3 619.6 L415.3 618.9 L415.4 618.3 L415.5 617.6 L415.5 616.9 L415.6 616.2 L415.6 615.5 L415.7 614.8 L415.7 614.1 L415.8 613.3 L415.9 612.6 L415.9 611.9 L415.9 611.1 L416 610.4 L416 609.7 L416.1 608.9 L416.1 608.1 L416.2 607.4 L416.2 606.6 L416.3 605.8 L416.3 605.1 L416.4 604.3 L416.4 603.5 L416.5 602.7 L416.5 602 L416.6 601.2 L416.6 600.4 L416.6 599.8 L416.7 599.1 L416.7 598.4 L416.8 597.8 L416.8 597.1 L416.8 596.4 L416.9 595.7 L416.9 595 L416.9 594.2 L417 593.5 L417 592.8 L417 592 L417.1 591.3 L417.1 590.5 L417.2 589.8 L417.2 589 L417.2 588.3 L417.2 587.5 L417.3 586.7 L417.3 586 L417.3 585.2 L417.4 584.4 L417.4 583.7 L417.4 582.9 L417.5 582.1 L417.5 581.4 L417.5 580.6 L417.6 579.8 L417.6 579.1 L417.6 578.3 L417.6 577.6 L417.7 576.8 L417.7 576.1 L417.7 575.3 L417.8 574.6 L417.8 573.9 L417.8 573.2 L417.8 572.5 L417.9 571.8 L417.9 571.1 L417.9 570.4 L418 569.7 L418 569 L418 568.4 L418 567.8 L418.1 567.1 L418.1 566.5 L418.1 565.9 L418.1 565.3 L418.2 564.8 L418.2 564.2 L418.2 563.3 L418.3 562.4 L418.3 561.4 L418.4 560.4 L418.4 559.4 L418.5 558.5 L418.5 557.5 L418.5 556.5 L418.6 555.6 L418.6 554.7 L418.6 553.9 L418.7 553.1 L418.7 552.4 L418.8 551.7 L418.8 551.1 L418.8 550.6 L418.9 550.2 L418.9 549.9 L419 549.8 L419 549.7 L419 549.7 L419.1 549.9 L419.1 550.1 L419.1 550.4 L419.2 550.7 L419.2 551.1 L419.2 551.6 L419.3 552.1 L419.3 552.7 L419.4 553.4 L419.4 554.1 L419.4 554.8 L419.5 555.6 L419.5 556.4 L419.5 557.2 L419.6 558.1 L419.6 559 L419.6 559.9 L419.7 560.9 L419.7 561.8 L419.7 562.8 L419.8 563.7 L419.8 564.7 L419.8 565.6 L419.9 566.6 L419.9 567.5 L419.9 568.4 L420 569.3 L420 570.2 L420 570.8 L420 571.3 L420.1 571.9 L420.1 572.5 L420.1 573.1 L420.1 573.7 L420.1 574.3 L420.1 574.9 L420.2 575.5 L420.2 576.2 L420.2 576.8 L420.2 577.5 L420.2 578.1 L420.2 578.8 L420.3 579.5 L420.3 580.1 L420.3 580.8 L420.3 581.5 L420.3 582.2 L420.3 582.9 L420.3 583.6 L420.4 584.3 L420.4 585 L420.4 585.8 L420.4 586.5 L420.4 587.2 L420.4 588 L420.4 588.7 L420.5 589.4 L420.5 590.2 L420.5 590.9 L420.5 591.7 L420.5 592.4 L420.5 593.2 L420.5 593.9 L420.5 594.7 L420.6 595.4 L420.6 596.2 L420.6 597 L420.6 597.7 L420.6 598.5 L420.6 599.3 L420.6 600 L420.6 600.8 L420.7 601.5 L420.7 602.3 L420.7 603.1 L420.7 603.8 L420.7 604.6 L420.7 605.3 L420.7 606.1 L420.7 606.9 L420.8 607.6 L420.8 608.4 L420.8 609.1 L420.8 609.8 L420.8 610.6 L420.8 611.3 L420.8 612.1 L420.8 612.8 L420.9 613.5 L420.9 614.2 L420.9 615 L420.9 615.7 L420.9 616.4 L420.9 617.1 L420.9 617.8 L421 618.5 L421 619.1 L421 619.8 L421 620.5 L421 621.2 L421 622 L421.1 622.7 L421.1 623.5 L421.1 624.2 L421.1 625 L421.1 625.8 L421.1 626.5 L421.2 627.3 L421.2 628 L421.2 628.8 L421.2 629.5 L421.2 630.3 L421.2 631 L421.3 631.8 L421.3 632.5 L421.3 633.3 L421.3 634 L421.3 634.8 L421.4 635.5 L421.4 636.3 L421.4 637 L421.4 637.8 L421.4 638.5 L421.4 639.2 L421.5 640 L421.5 640.7 L421.5 641.4 L421.5 642.2 L421.5 642.9 L421.6 643.6 L421.6 644.3 L421.6 645 L421.6 645.8 L421.6 646.5 L421.6 647.2 L421.7 647.9 L421.7 648.6 L421.7 649.3 L421.7 649.9 L421.7 650.6 L421.7 651.3 L421.8 652 L421.8 652.6 L421.8 653.3 L421.8 654 L421.8 654.6 L421.9 655.3 L421.9 655.9 L421.9 656.5 L421.9 657.2 L421.9 657.8 L421.9 658.4 L422 659 L422 659.6 L422 660.2 L422 660.8 L422 661.6 L422 662.5 L422.1 663.3 L422.1 664.1 L422.1 664.9 L422.1 665.8 L422.1 666.6 L422.1 667.3 L422.2 668.1 L422.2 668.9 L422.2 669.7 L422.2 670.4 L422.2 671.2 L422.2 671.9 L422.2 672.7 L422.3 673.4 L422.3 674.1 L422.3 674.8 L422.3 675.4 L422.3 676.1 L422.4 676.8 L422.4 677.4 L422.4 678 L422.4 678.6 L422.5 679.2 L422.5 679.8 L422.6 680.4 L422.6 680.9 L422.7 681.8 L422.7 682.8 L422.8 683.7 L422.9 684.7 L422.9 685.5 L423 686.3 L423.1 687 L423.3 687.5 L423.4 687.9 L423.6 688 L423.8 687.9 L424 687.6 L424.2 687.1 L424.5 686.5 L424.7 685.7 L425 684.9 L425.3 684.1 L425.6 683.2 L426 682.4 L426.3 681.6 L426.7 680.9 L427.1 680.3 L427.5 679.7 L427.9 679.2 L428.3 678.6 L428.7 678 L429.2 677.4 L429.7 676.9 L430.1 676.3 L430.6 675.8 L431.1 675.3 L431.7 674.8 L432.2 674.3 L432.7 673.9 L433.3 673.4 L433.9 673 L434.5 672.6 L435.2 672.2 L435.8 671.8 L436.5 671.5 L437.2 671.2 L437.9 670.9 L438.6 670.6 L439.3 670.3 L440 670.1 L440.7 669.9 L441.4 669.7 L442.1 669.6 L442.8 669.4 L443.5 669.3 L444.2 669.2 L445 669.1 L445.7 669 L446.5 668.9 L447.2 668.9 L447.9 668.9 L448.7 668.9 L449.4 668.9 L450.1 668.9 L450.9 669 L451.6 669.1 L452.4 669.1 L453.1 669.3 L453.9 669.4 L454.6 669.5 L455.4 669.7 L456.1 669.9 L456.8 670.1 L457.5 670.3 L458.2 670.5 L458.9 670.8 L459.6 671.1 L460.2 671.4 L460.8 671.7 L461.5 672 L462.1 672.4 L462.7 672.8 L463.3 673.2 L463.8 673.6 L464.4 674 L464.9 674.5 L465.5 675 L466 675.5 L466.5 676 L466.9 676.5 L467.3 677.1 L467.7 677.7 L468.1 678.3 L468.5 678.9 L468.9 679.6 L469.3 680.2 L469.7 680.9 L470 681.6 L470.4 682.3 L470.7 682.9 L471.1 683.6 L471.4 684.3 L471.8 684.9 L472.1 685.5 L472.5 686.2 L472.8 686.8 L473.2 687.5 L473.5 688.2 L473.8 688.9 L474.1 689.6 L474.4 690.2 L474.8 690.9 L475.1 691.5 L475.4 692.2 L475.7 692.8 L476 693.3 L476.3 693.9 L476.6 694.4 L477 695.2 L477.5 696 L477.9 696.8 L478.4 697.5 L478.8 698.1 L479.2 698.5 L479.6 698.6 L479.9 698.5 L480.1 698.2 L480.4 697.8 L480.6 697.2 L480.9 696.6 L481.1 695.8 L481.3 695 L481.5 694.2 L481.7 693.3 L481.9 692.3 L482.1 691.4 L482.3 690.5 L482.5 689.6 L482.6 689 L482.7 688.5 L482.8 687.9 L482.9 687.3 L483 686.6 L483.1 686 L483.2 685.3 L483.2 684.6 L483.3 683.9 L483.4 683.2 L483.5 682.5 L483.5 681.8 L483.6 681 L483.7 680.3 L483.7 679.5 L483.8 678.8 L483.8 678 L483.9 677.2 L483.9 676.5 L484 675.7 L484.1 674.9 L484.1 674.2 L484.2 673.4 L484.2 672.6 L484.3 671.9 L484.3 671.1 L484.4 670.4 L484.5 669.6 L484.5 668.9 L484.6 668.2 L484.7 667.5 L484.7 666.8 L484.8 666.1 L484.9 665.4 L484.9 664.6 L485 663.8 L485.1 663 L485.1 662.3 L485.2 661.5 L485.2 660.7 L485.3 659.9 L485.3 659.1 L485.3 658.3 L485.4 657.5 L485.4 656.7 L485.5 656 L485.5 655.2 L485.6 654.4 L485.7 653.7 L485.7 653 L485.8 652.3 L485.9 651.6 L486 651 L486.2 650.3 L486.3 649.7 L486.4 649.2 L486.6 648.6 L486.8 648.1 L487 647.6 L487.2 647.2 L487.7 646.4 L488.1 645.7 L488.7 645.1 L489.2 644.5 L489.9 644.1 L490.5 643.7 L491.2 643.4 L491.9 643.2 L492.5 643.1 L493 643.1 L493.7 643.2 L494.3 643.4 L495 643.6 L495.7 643.8 L496.4 644.1 L497.1 644.4 L497.8 644.7 L498.5 645 L499.2 645.3 L499.9 645.5 L500.6 645.8 L501.3 646 L502 646.2 L502.7 646.4 L503.5 646.6 L504.2 646.8 L504.9 647 L505.6 647.2 L506.3 647.4 L507.1 647.6 L507.8 647.8 L508.5 647.9 L509.3 648.1 L510 648.3 L510.8 648.4 L511.5 648.5 L512.2 648.6 L512.9 648.7 L513.7 648.8 L514.4 648.9 L515.1 648.9 L515.9 649 L516.7 649 L517.4 649.1 L518.2 649.1 L518.9 649.2 L519.7 649.3 L520.4 649.3 L521.1 649.4 L521.9 649.4 L522.6 649.5 L523.3 649.6 L524.1 649.6 L524.8 649.6 L525.6 649.7 L526.4 649.7 L527.1 649.7 L527.9 649.7 L528.6 649.8 L529.4 649.8 L530.1 649.9 L530.8 650 L531.4 650.1 L532.1 650.3 L532.6 650.5 L533.2 650.7 L533.9 651.1 L534.5 651.4 L535.1 651.9 L535.6 652.3 L536.1 652.8 L536.6 653.4 L537.1 654 L537.5 654.7 L537.9 655.4 L538.1 655.9 L538.4 656.4 L538.6 657 L538.8 657.6 L539 658.2 L539.1 658.8 L539.3 659.5 L539.4 660.2 L539.6 660.9 L539.7 661.6 L539.8 662.3 L539.9 663.1 L540 663.8 L540.2 664.6 L540.3 665.4 L540.4 666.1 L540.5 666.9 L540.6 667.7 L540.7 668.5 L540.8 669.3 L540.9 670 L541 670.8 L541.1 671.5 L541.2 672.2 L541.3 672.9 L541.4 673.7 L541.5 674.6 L541.5 675.4 L541.6 676.3 L541.7 677.2 L541.8 678.1 L541.9 679.1 L541.9 680 L542 681 L542.1 681.9 L542.2 682.8 L542.2 683.7 L542.3 684.6 L542.4 685.5 L542.4 686.3 L542.5 687.1 L542.6 687.9 L542.6 688.6 L542.7 689.3 L542.8 690 L542.9 690.5 L542.9 691.1 L543 691.5 L543.1 691.9 L543.2 692.2 L543.2 692.4 L543.3 692.6 L543.4 692.6 L543.5 692.5 L543.6 692.4 L543.7 692.1 L543.8 691.6 L543.9 691.1 L544 690.6 L544.1 689.9 L544.2 689.2 L544.3 688.4 L544.4 687.5 L544.5 686.7 L544.6 685.7 L544.7 684.8 L544.8 683.9 L544.9 682.9 L545 682 L545.2 681.1 L545.3 680.2 L545.4 679.4 L545.6 678.6 L545.7 677.8 L545.8 677.1 L546 676.4 L546.1 675.7 L546.2 675 L546.3 674.2 L546.4 673.5 L546.5 672.7 L546.6 672 L546.8 671.2 L546.9 670.5 L547 669.7 L547.1 669 L547.3 668.2 L547.4 667.5 L547.6 666.8 L547.7 666.1 L547.9 665.4 L548.1 664.7 L548.3 664.1 L548.6 663.5 L548.8 662.9 L549.1 662.3 L549.4 661.8 L549.7 661.3 L550.1 660.7 L550.6 660.1 L551.1 659.6 L551.6 659.1 L552.2 658.6 L552.8 658.2 L553.4 657.7 L554 657.4 L554.6 657 L555.3 656.6 L555.9 656.3 L556.6 656 L557.3 655.7 L558 655.4 L558.6 655.2 L559.2 655 L559.9 654.8 L560.6 654.6 L561.3 654.4 L562 654.3 L562.7 654.2 L563.5 654 L564.2 653.9 L564.9 653.8 L565.7 653.7 L566.5 653.7 L567.2 653.6 L567.9 653.5 L568.7 653.4 L569.4 653.4 L570.1 653.3 L570.8 653.2 L571.5 653.2 L572.1 653.1 L572.9 653 L573.6 652.9 L574.3 652.9 L575 652.8 L575.7 652.8 L576.4 652.7 L577.1 652.7 L577.8 652.6 L578.5 652.6 L579.1 652.5 L579.8 652.5 L580.5 652.5 L581.2 652.4" stroke="#f00" stroke-width="2.0" fill="none" stroke-linejoin="round"/>
<path d="M34.7 113.8 L35.4 113.8 L36.2 113.7 L36.9 113.7 L37.6 113.7 L38.3 113.7 L39.1 113.6 L39.8 113.6 L40.6 113.6 L41.3 113.6 L42 113.6 L42.8 113.6 L43.5 113.5 L44.2 113.5 L44.9 113.5 L45.7 113.4 L46.4 113.4 L47.1 113.3 L47.8 113.3 L48.5 113.2 L49.2 113.1 L49.9 113 L50.6 112.9 L51.3 112.8 L52.1 112.6 L52.8 112.5 L53.6 112.3 L54.3 112.1 L55.1 112 L55.8 111.8 L56.5 111.6 L57.2 111.4 L58 111.2 L58.7 111 L59.4 110.7 L60.1 110.5 L60.7 110.3 L61.4 110.1 L62.1 109.8 L62.7 109.6 L63.3 109.3 L63.9 109.1 L64.6 108.8 L65.3 108.5 L66 108.1 L66.7 107.8 L67.4 107.5 L68 107.1 L68.6 106.8 L69.2 106.4 L69.8 106 L70.3 105.7 L70.9 105.3 L71.4 104.9 L72 104.4 L72.5 103.8 L73.1 103.2 L73.5 102.5 L74 101.9 L74.5 101.4 L75 101 L75.5 100.8 L76.4 100.7 L77.2 100.8 L78.1 101.1 L78.9 101.6 L79.3 102 L79.7 102.5 L80 103 L80.3 103.7 L80.7 104.3 L81 105.1 L81.2 105.8 L81.5 106.6 L81.7 107.5 L82 108.3 L82.2 109.1 L82.3 109.7 L82.5 110.3 L82.6 111 L82.7 111.6 L82.8 112.3 L82.9 113 L83 113.7 L83.1 114.5 L83.1 115.2 L83.2 115.9 L83.2 116.7 L83.3 117.4 L83.3 118.2 L83.4 118.9 L83.5 119.7 L83.5 120.4 L83.6 121.1 L83.6 121.8 L83.7 122.5 L83.8 123.2 L83.9 124 L84 124.7 L84.1 125.5 L84.2 126.2 L84.3 127 L84.4 127.7 L84.5 128.4 L84.6 129.2 L84.7 129.9 L84.8 130.6 L84.9 131.3 L85.1 132 L85.2 132.7 L85.3 133.4 L85.4 134.1 L85.5 134.8 L85.6 135.6 L85.7 136.3 L85.8 137.1 L85.9 137.9 L86 138.6 L86.2 139.4 L86.3 140.1 L86.4 140.8 L86.5 141.5 L86.7 142.2 L86.8 142.8 L87 143.4 L87.2 144 L87.5 144.8 L87.8 145.6 L88.2 146.3 L88.6 146.9 L89.1 147.4 L89.6 147.8 L90.2 148 L90.9 148.1 L91.6 148.1 L92.4 148 L93.1 147.8 L93.9 147.6 L94.6 147.3 L95.1 147 L95.7 146.6 L96.2 146.1 L96.7 145.5 L97.2 144.9 L97.7 144.3 L98.2 143.7 L98.7 143.1 L99.3 142.5 L99.8 142 L100.4 141.5 L101 141.1 L101.6 140.6 L102.2 140.2 L102.9 139.8 L103.5 139.5 L104.2 139.1 L104.8 138.8 L105.6 138.5 L106.3 138.3 L107.1 138.1 L107.7 138 L108.3 137.9 L109 137.8 L109.7 137.8 L110.4 137.7 L111.1 137.7 L111.8 137.7 L112.6 137.7 L113.4 137.7 L114.1 137.7 L114.9 137.8 L115.6 137.8 L116.4 137.9 L117.1 138 L117.8 138.1 L118.5 138.2 L119.2 138.3 L119.8 138.4 L120.4 138.5 L121.2 138.7 L121.9 138.9 L122.6 139.1 L123.3 139.3 L124 139.6 L124.6 139.8 L125.2 140.1 L125.8 140.4 L126.4 140.7 L127 141.1 L127.6 141.5 L128.2 141.9 L128.7 142.4 L129.3 142.9 L129.8 143.4 L130.3 143.9 L130.9 144.4 L131.4 145 L132 145.6 L132.4 146.1 L132.9 146.5 L133.4 147 L133.9 147.5 L134.4 148.1 L134.8 148.6 L135.4 149.2 L135.9 149.7 L136.4 150.3 L136.9 150.9 L137.4 151.5 L137.9 152.1 L138.4 152.7 L138.9 153.3 L139.4 153.8 L139.8 154.4 L140.3 155 L140.7 155.6 L141.2 156.2 L141.6 156.8 L142 157.5 L142.5 158.1 L142.9 158.8 L143.3 159.5 L143.7 160.2 L144.1 160.8 L144.5 161.4 L144.9 162.1 L145.3 162.7 L145.7 163.2 L146.2 163.7 L146.6 164.2 L147 164.6 L147.4 165 L148.1 165.5 L148.8 166.1 L149.5 166.5 L150.2 166.9 L150.9 167.1 L151.5 167.2 L152 167 L152.2 166.8 L152.4 166.6 L152.6 166.3 L152.7 165.9 L152.8 165.5 L153 165 L153 164.4 L153.1 163.9 L153.2 163.2 L153.2 162.6 L153.2 161.8 L153.3 161.1 L153.3 160.3 L153.3 159.5 L153.3 158.7 L153.3 157.9 L153.2 157 L153.2 156.1 L153.2 155.2 L153.2 154.3 L153.2 153.4 L153.1 152.6 L153.1 151.7 L153.1 150.8 L153.1 149.9 L153.1 149.1 L153.1 148.2 L153.2 147.4 L153.2 146.6 L153.2 146 L153.3 145.3 L153.3 144.7 L153.3 144.1 L153.4 143.4 L153.4 142.7 L153.4 142.1 L153.5 141.4 L153.5 140.8 L153.5 140.1 L153.6 139.4 L153.6 138.7 L153.6 138 L153.6 137.3 L153.7 136.6 L153.7 135.9 L153.7 135.2 L153.8 134.5 L153.8 133.8 L153.8 133.1 L153.9 132.4 L153.9 131.7 L153.9 131 L154 130.3 L154 129.5 L154 128.8 L154.1 128.1 L154.1 127.4 L154.1 126.7 L154.2 125.9 L154.2 125.2 L154.2 124.5 L154.3 123.8 L154.3 123 L154.3 122.3 L154.4 121.6 L154.4 120.9 L154.4 120.1 L154.5 119.4 L154.5 118.7 L154.5 118 L154.6 117.2 L154.6 116.5 L154.7 115.8 L154.7 115.1 L154.7 114.4 L154.8 113.7 L154.8 113 L154.9 112.3 L154.9 111.6 L154.9 110.9 L155 110.2 L155 109.5 L155.1 108.8 L155.1 108.1 L155.2 107.4 L155.2 106.7 L155.3 106 L155.3 105.3 L155.4 104.6 L155.4 103.9 L155.5 103.2 L155.5 102.5 L155.5 101.7 L155.6 101 L155.6 100.3 L155.7 99.6 L155.7 98.9 L155.8 98.2 L155.8 97.5 L155.9 96.8 L155.9 96.1 L156 95.4 L156 94.6 L156.1 93.9 L156.1 93.2 L156.2 92.5 L156.2 91.8 L156.3 91.1 L156.3 90.4 L156.4 89.7 L156.4 89 L156.5 88.3 L156.5 87.6 L156.6 86.9 L156.6 86.2 L156.6 85.5 L156.7 84.8 L156.7 84.1 L156.8 83.5 L156.8 82.8 L156.9 82.1 L156.9 81.4 L156.9 80.7 L157 79.9 L157 79.2 L157.1 78.5 L157.1 77.7 L157.2 77 L157.2 76.3 L157.2 75.6 L157.3 74.8 L157.3 74.1 L157.4 73.4 L157.4 72.6 L157.4 71.9 L157.5 71.2 L157.5 70.5 L157.6 69.8 L157.6 69 L157.6 68.3 L157.7 67.6 L157.7 66.9 L157.8 66.2 L157.8 65.5 L157.8 64.7 L157.9 64 L157.9 63.3 L157.9 62.6 L158 61.9 L158 61.2 L158.1 60.5 L158.1 59.8 L158.1 59.1 L158.2 58.4 L158.2 57.7 L158.2 57 L158.3 56.3 L158.3 55.6 L158.3 54.9 L158.4 54.2 L158.4 53.5 L158.4 52.9 L158.5 52.2 L158.5 51.5 L158.5 50.7 L158.6 50 L158.6 49.2 L158.6 48.4 L158.6 47.5 L158.6 46.7 L158.6 45.9 L158.6 45 L158.6 44.2 L158.6 43.3 L158.6 42.4 L158.6 41.6 L158.6 40.7 L158.6 39.9 L158.6 39 L158.6 38.2 L158.6 37.3 L158.6 36.5 L158.6 35.7 L158.6 34.9 L158.6 34.2 L158.6 33.4 L158.6 32.7 L158.7 32 L158.7 31.3 L158.7 30.7 L158.8 30.1 L158.8 29.5 L158.9 29 L159 28.5 L159.1 28 L159.1 27.6 L159.3 27.2 L159.4 26.9 L159.5 26.6 L160 25.8 L160.6 25.4 L161.2 25.3 L161.4 25.5 L161.7 25.7 L161.9 26.2 L162.1 26.7 L162.3 27.3 L162.5 28 L162.6 28.8 L162.8 29.6 L163 30.5 L163.2 31.4 L163.4 32.3 L163.6 33.2 L163.8 34.1 L164 34.9 L164.1 35.5 L164.3 36.1 L164.4 36.7 L164.6 37.3 L164.7 37.9 L164.9 38.6 L165 39.3 L165.2 40 L165.3 40.7 L165.5 41.4 L165.6 42.1 L165.8 42.8 L165.9 43.6 L166.1 44.3 L166.2 45 L166.4 45.8 L166.6 46.5 L166.7 47.3 L166.9 48.1 L167 48.8 L167.2 49.5 L167.4 50.3 L167.5 51 L167.7 51.7 L167.9 52.5 L168.1 53.2 L168.3 53.9 L168.4 54.5 L168.6 55.2 L168.8 55.9 L169 56.5 L169.2 57.2 L169.5 58 L169.7 58.7 L169.9 59.5 L170.2 60.2 L170.4 60.9 L170.6 61.6 L170.9 62.3 L171.1 63 L171.4 63.7 L171.6 64.4 L171.9 65.1 L172.1 65.8 L172.4 66.4 L172.7 67.1 L172.9 67.7 L173.2 68.4 L173.5 69 L173.8 69.7 L174.1 70.3 L174.5 70.9 L174.8 71.5 L175.2 72.1 L175.5 72.8 L175.9 73.4 L176.3 74 L176.7 74.7 L177.1 75.3 L177.5 75.9 L178 76.5 L178.4 77.1 L178.8 77.6 L179.3 78.2 L179.7 78.8 L180.2 79.3 L180.7 79.8 L181.1 80.4 L181.6 80.9 L182.1 81.4 L182.6 81.8 L183.1 82.3 L183.7 82.8 L184.2 83.3 L184.8 83.7 L185.4 84.2 L186 84.6 L186.6 85 L187.2 85.4 L187.8 85.8 L188.5 86.2 L189.1 86.5 L189.7 86.9 L190.4 87.2 L191.1 87.5 L191.7 87.8 L192.4 88.1 L193.1 88.4 L193.7 88.6 L194.4 88.9 L195.1 89.1 L195.8 89.3 L196.5 89.4 L197.2 89.6 L197.9 89.8 L198.7 89.9 L199.4 90 L200.1 90.2 L200.9 90.3 L201.6 90.4 L202.3 90.6 L203 90.7 L203.8 90.8 L204.4 90.9 L205.1 91.1 L205.8 91.2 L206.4 91.4 L207.2 91.6 L208 91.8 L208.8 92 L209.5 92.1 L210.3 92.3 L211 92.5 L211.7 92.7 L212.4 92.9 L213.1 93.2 L213.7 93.4 L214.4 93.7 L215 94.1 L215.6 94.5 L216.2 94.9 L216.7 95.4 L217.2 95.9 L217.7 96.4 L218.2 96.9 L218.7 97.4 L219.2 98 L219.6 98.6 L220.1 99.2 L220.5 99.8 L220.9 100.4 L221.3 101 L221.6 101.6 L221.9 102.3 L222.2 102.9 L222.5 103.6 L222.8 104.3 L223 105 L223.3 105.7 L223.6 106.4 L223.8 107.1 L224.1 107.9 L224.4 108.6 L224.7 109.3 L225 109.9 L225.3 110.6 L225.5 111.3 L225.8 112.1 L226.1 112.8 L226.4 113.6 L226.6 114.4 L226.9 115.1 L227.2 115.9 L227.5 116.6 L227.8 117.3 L228.2 118 L228.5 118.6 L228.8 119.2 L229.2 119.7 L229.5 120.1 L229.9 120.5 L230.6 121 L231.3 121.4 L232 121.7 L232.8 121.9 L233.6 122 L234.4 122 L235 122 L235.6 121.9 L236.3 121.7 L236.9 121.6 L237.6 121.3 L238.3 121.1 L239 120.8 L239.7 120.5 L240.4 120.3 L241.2 120 L241.9 119.8 L242.5 119.6 L243.2 119.4 L243.8 119.2 L244.5 119 L245.2 118.8 L245.8 118.6 L246.5 118.4 L247.2 118.2 L247.9 117.9 L248.6 117.7 L249.3 117.5 L250.1 117.3 L250.8 117.2 L251.5 117 L252.3 116.8 L252.9 116.7 L253.6 116.5 L254.3 116.4 L254.9 116.3 L255.6 116.2 L256.3 116.1 L257 115.9 L257.7 115.8 L258.4 115.7 L259.1 115.6 L259.8 115.5 L260.5 115.4 L261.2 115.3 L262 115.2 L262.7 115.1 L263.5 115.1 L264.2 115 L265 114.9 L265.7 114.8 L266.5 114.7 L267.3 114.6 L267.9 114.5 L268.6 114.5 L269.3 114.4 L269.9 114.3 L270.6 114.2 L271.3 114.2 L272 114.1 L272.7 114 L273.4 114 L274.1 113.9 L274.9 113.8 L275.6 113.8 L276.3 113.7 L277 113.6 L277.8 113.6 L278.5 113.5 L279.2 113.5 L280 113.4 L280.7 113.3 L281.4 113.3 L282.2 113.2 L282.9 113.2 L283.7 113.1 L284.4 113 L285.1 113 L285.9 112.9 L286.6 112.9 L287.3 112.8 L288.1 112.7 L288.8 112.7 L289.5 112.6" stroke="#000" stroke-width="1.5" fill="none" stroke-dasharray="5 5.6"/>
<path d="M326 113.3 L326.7 113.2 L327.4 113.2 L328.2 113.1 L328.9 113.1 L329.6 113 L330.4 113 L331.1 112.9 L331.8 112.9 L332.5 112.8 L333.3 112.8 L334 112.7 L334.7 112.7 L335.4 112.6 L336.2 112.6 L336.9 112.5 L337.6 112.4 L338.3 112.4 L339 112.3 L339.7 112.2 L340.5 112.1 L341.2 112 L341.9 111.9 L342.7 111.8 L343.4 111.7 L344.2 111.5 L344.9 111.4 L345.7 111.3 L346.4 111.2 L347.1 111.1 L347.8 111 L348.5 110.9 L349.1 110.9 L349.7 110.8 L350.3 110.8 L350.9 110.8 L351.7 110.8 L352.5 110.9 L353.3 111 L354 111.2 L354.6 111.3 L355.3 111.5 L356 111.8 L356.6 112.1 L357.3 112.4 L357.9 112.7 L358.5 113.1 L359.1 113.5 L359.7 113.9 L360.3 114.4 L360.9 114.9 L361.4 115.4 L361.9 115.8 L362.3 116.4 L362.8 116.9 L363.3 117.4 L363.7 118 L364.2 118.6 L364.6 119.2 L365.1 119.8 L365.5 120.4 L366 121 L366.4 121.6 L366.9 122.2 L367.3 122.8 L367.7 123.4 L368.1 124 L368.5 124.7 L369 125.3 L369.4 125.9 L369.8 126.5 L370.3 127.1 L370.7 127.6 L371.2 128.1 L371.7 128.5 L372.3 128.9 L372.9 129.3 L373.5 129.7 L374.1 130 L374.8 130.3 L375.4 130.5 L376.1 130.7 L376.8 130.9 L377.5 131 L378.1 131.1 L378.8 131.1 L379.5 131.1 L380.1 131 L380.8 130.9 L381.6 130.8 L382.3 130.6 L383 130.5 L383.7 130.4 L384.5 130.2 L385.2 130.1 L386 130 L386.7 129.9 L387.3 129.8 L388 129.8 L388.7 129.7 L389.4 129.6 L390.1 129.5 L390.8 129.4 L391.5 129.3 L392.2 129.3 L392.9 129.2 L393.6 129.1 L394.4 129 L395.1 128.9 L395.9 128.7 L396.6 128.6 L397.4 128.5 L398 128.4 L398.7 128.3 L399.4 128.1 L400.1 128 L400.8 127.8 L401.5 127.7 L402.3 127.5 L403 127.4 L403.8 127.2 L404.5 127 L405.3 126.9 L406 126.7 L406.8 126.5 L407.5 126.4 L408.2 126.2 L409 126.1 L409.7 125.9 L410.4 125.8 L411 125.6 L411.7 125.5 L412.3 125.4 L412.9 125.3 L413.5 125.3 L414 125.2 L414.9 125.2 L415.7 125.2 L416.4 125.3 L417.1 125.4 L417.8 125.4 L418.5 125.5 L419.2 125.4 L420 125.2 L420.5 125 L421.1 124.8 L421.7 124.5 L422.3 124.2 L423 123.9 L423.6 123.5 L424.3 123.1 L424.9 122.7 L425.6 122.3 L426.2 121.8 L426.8 121.4 L427.4 120.9 L428 120.3 L428.6 119.8 L429.2 119.3 L429.7 118.7 L430.2 118.2 L430.6 117.6 L431 117.1 L431.3 116.5 L431.7 115.9 L432 115.3 L432.2 114.7 L432.5 114.1 L432.7 113.4 L432.9 112.8 L433.2 112.1 L433.4 111.4 L433.5 110.8 L433.7 110 L433.9 109.3 L434.1 108.6 L434.2 107.9 L434.4 107.1 L434.6 106.4 L434.7 105.6 L434.9 104.9 L435.1 104.1 L435.3 103.5 L435.4 102.9 L435.5 102.2 L435.7 101.6 L435.8 100.9 L436 100.2 L436.1 99.6 L436.2 98.9 L436.4 98.2 L436.5 97.5 L436.6 96.8 L436.7 96.1 L436.8 95.4 L437 94.7 L437.1 94 L437.2 93.2 L437.3 92.5 L437.4 91.8 L437.5 91 L437.6 90.3 L437.7 89.6 L437.9 88.8 L438 88.1 L438.1 87.3 L438.2 86.6 L438.3 85.8 L438.4 85.1 L438.5 84.3 L438.6 83.6 L438.7 82.9 L438.8 82.1 L438.9 81.4 L439 80.7 L439.1 80 L439.2 79.3 L439.3 78.6 L439.4 77.9 L439.5 77.2 L439.6 76.5 L439.6 75.8 L439.7 75.1 L439.8 74.4 L439.9 73.6 L440 72.9 L440.1 72.2 L440.2 71.5 L440.3 70.8 L440.3 70.1 L440.4 69.3 L440.5 68.6 L440.6 67.9 L440.7 67.2 L440.7 66.4 L440.8 65.7 L440.9 65 L441 64.3 L441.1 63.6 L441.1 62.8 L441.2 62.1 L441.3 61.4 L441.4 60.7 L441.4 60 L441.5 59.3 L441.6 58.6 L441.7 57.9 L441.7 57.2 L441.8 56.5 L441.9 55.8 L442 55.1 L442.1 54.3 L442.1 53.6 L442.2 52.8 L442.3 52.1 L442.4 51.3 L442.4 50.5 L442.5 49.7 L442.6 49 L442.6 48.2 L442.7 47.4 L442.8 46.6 L442.9 45.9 L442.9 45.1 L443 44.3 L443.1 43.6 L443.1 42.8 L443.2 42.1 L443.3 41.4 L443.3 40.6 L443.4 39.9 L443.5 39.2 L443.5 38.5 L443.6 37.9 L443.7 37.2 L443.8 36.6 L443.8 35.9 L443.9 35.3 L444 34.7 L444 34.2 L444.1 33.6 L444.2 33.1 L444.3 32.1 L444.5 31.1 L444.6 30.1 L444.7 29.1 L444.9 28.2 L445 27.3 L445.2 26.6 L445.3 26.1 L445.5 25.7 L445.7 25.6 L445.9 25.7 L446.1 26 L446.4 26.6 L446.6 27.2 L446.9 28 L447.2 28.9 L447.4 29.8 L447.7 30.7 L447.9 31.6 L448 32.1 L448.2 32.7 L448.3 33.2 L448.4 33.8 L448.5 34.4 L448.6 35.1 L448.7 35.7 L448.8 36.4 L448.9 37.1 L449 37.7 L449.2 38.5 L449.3 39.2 L449.4 39.9 L449.5 40.6 L449.6 41.4 L449.7 42.1 L449.8 42.9 L449.9 43.7 L450 44.4 L450.1 45.2 L450.2 45.9 L450.4 46.7 L450.5 47.5 L450.6 48.2 L450.8 49 L450.9 49.7 L451 50.4 L451.2 51 L451.3 51.7 L451.4 52.4 L451.6 53 L451.7 53.7 L451.9 54.4 L452 55.1 L452.2 55.8 L452.4 56.5 L452.5 57.2 L452.7 57.9 L452.8 58.6 L453 59.3 L453.2 60.1 L453.3 60.8 L453.5 61.5 L453.7 62.2 L453.8 62.9 L454 63.6 L454.2 64.3 L454.4 65 L454.5 65.7 L454.7 66.4 L454.9 67.1 L455 67.8 L455.2 68.5 L455.4 69.1 L455.5 69.8 L455.7 70.5 L455.9 71.1 L456 71.8 L456.2 72.4 L456.4 73.1 L456.6 73.9 L456.7 74.6 L456.9 75.4 L457.1 76.1 L457.2 76.9 L457.4 77.6 L457.6 78.3 L457.7 79 L457.9 79.8 L458.1 80.5 L458.2 81.2 L458.4 81.9 L458.6 82.6 L458.8 83.2 L458.9 83.9 L459.1 84.6 L459.3 85.2 L459.6 85.9 L459.8 86.5 L460 87.2 L460.3 87.8 L460.5 88.4 L460.8 89 L461.1 89.7 L461.5 90.4 L461.8 91 L462.2 91.7 L462.6 92.3 L463 92.9 L463.4 93.6 L463.8 94.2 L464.2 94.8 L464.6 95.4 L465 95.9 L465.5 96.5 L465.9 97 L466.4 97.6 L466.9 98.1 L467.3 98.6 L467.8 99 L468.3 99.5 L468.8 100 L469.4 100.4 L470 100.9 L470.5 101.3 L471.1 101.7 L471.7 102 L472.3 102.4 L472.9 102.7 L473.6 103.1 L474.2 103.4 L474.8 103.7 L475.5 104 L476.1 104.3 L476.8 104.5 L477.4 104.8 L478.1 105.1 L478.7 105.3 L479.4 105.5 L480.1 105.7 L480.9 105.9 L481.6 106.1 L482.3 106.2 L483 106.4 L483.7 106.6 L484.4 106.7 L485.2 106.8 L485.9 107 L486.6 107.1 L487.2 107.3 L487.9 107.4 L488.7 107.6 L489.4 107.7 L490.1 107.9 L490.9 108 L491.6 108.1 L492.3 108.3 L493 108.4 L493.7 108.5 L494.5 108.7 L495.3 108.8 L496.1 109 L496.7 109.1 L497.4 109.2 L498 109.4 L498.7 109.5 L499.4 109.6 L500.2 109.7 L500.9 109.9 L501.7 110 L502.4 110.1 L503.2 110.3 L503.9 110.4 L504.7 110.5 L505.4 110.7 L506.1 110.9 L506.8 111 L507.5 111.2 L508.1 111.4 L508.8 111.6 L509.3 111.9 L509.9 112.1 L510.7 112.5 L511.3 112.9 L512 113.3 L512.6 113.7 L513.2 114.2 L513.7 114.7 L514.3 115.2 L514.9 115.7 L515.4 116.2 L516 116.7 L516.5 117.2 L517 117.7 L517.5 118.2 L518.1 118.8 L518.6 119.4 L519.1 120 L519.6 120.5 L520.1 121.1 L520.6 121.6 L521.1 122 L521.6 122.4 L522.1 122.8 L522.8 123.2 L523.5 123.5 L524.1 123.8 L524.8 124 L525.5 124.2 L526.2 124.3 L527 124.4 L527.7 124.4 L528.4 124.4 L529.1 124.3 L529.8 124.1 L530.5 123.9 L531.3 123.7 L532 123.5 L532.8 123.3 L533.5 123 L534.3 122.8 L534.9 122.6 L535.6 122.4 L536.2 122.1 L536.8 121.8 L537.5 121.5 L538.1 121.2 L538.7 120.9 L539.4 120.6 L540.1 120.3 L540.7 120 L541.4 119.8 L542.1 119.5 L542.8 119.2 L543.5 119 L544.2 118.8 L544.8 118.6 L545.5 118.4 L546.2 118.2 L546.9 118.1 L547.6 117.9 L548.3 117.7 L549 117.6 L549.7 117.4 L550.4 117.3 L551.2 117.2 L551.9 117 L552.6 116.9 L553.4 116.8 L554.2 116.7 L554.9 116.6 L555.7 116.5 L556.4 116.4 L557 116.4 L557.7 116.3 L558.4 116.3 L559.1 116.3 L559.8 116.2 L560.6 116.2 L561.3 116.2 L562 116.2 L562.8 116.2 L563.5 116.2 L564.3 116.2 L565 116.2 L565.7 116.2 L566.5 116.2 L567.2 116.2 L567.9 116.2 L568.6 116.2 L569.3 116.2 L570 116.2 L570.6 116.2 L571.3 116.2 L571.9 116.2 L572.5 116.2 L573.3 116.2 L574.1 116.2 L574.9 116.1 L575.6 116.1 L576.3 116.1 L577 116.1 L577.7 116 L578.4 116 L579.1 116 L579.8 116 L580.5 115.9 L581.2 115.9" stroke="#000" stroke-width="1.5" fill="none" stroke-dasharray="5 5.6"/>
<path d="M34.7 383.5 L35.4 383.5 L36.1 383.4 L36.8 383.4 L37.5 383.3 L38.2 383.3 L38.9 383.2 L39.6 383.2 L40.3 383.1 L41 383.1 L41.7 383 L42.4 383 L43.1 383 L43.8 382.9 L44.5 382.9 L45.2 382.9 L45.9 382.9 L46.6 383 L47.3 383 L48 383.1 L48.8 383.1 L49.5 383.2 L50.2 383.3 L51 383.4 L51.7 383.5 L52.4 383.6 L53.2 383.7 L53.9 383.8 L54.6 384 L55.3 384.1 L56 384.3 L56.7 384.5 L57.5 384.6 L58.2 384.8 L58.9 385 L59.6 385.2 L60.3 385.4 L61 385.6 L61.6 385.9 L62.3 386.1 L63 386.4 L63.6 386.6 L64.3 386.9 L65 387.2 L65.7 387.4 L66.3 387.7 L67 388 L67.7 388.2 L68.4 388.5 L69.1 388.7 L69.8 389 L70.5 389.2 L71.2 389.4 L71.9 389.6 L72.5 389.8 L73.2 390.1 L73.9 390.3 L74.6 390.5 L75.3 390.7 L76 390.9 L76.7 391.1 L77.4 391.3 L78.1 391.5 L78.8 391.7 L79.5 391.8 L80.3 392 L81 392.1 L81.7 392.2 L82.4 392.3 L83.1 392.4 L83.8 392.5 L84.5 392.5 L85.2 392.6 L85.9 392.6 L86.6 392.6 L87.3 392.6 L88 392.5 L88.7 392.5 L89.4 392.5 L90.2 392.4 L90.9 392.3 L91.6 392.2 L92.3 392.1 L93 392 L93.7 391.9 L94.4 391.8 L95.1 391.7 L95.7 391.6 L96.4 391.4 L97.1 391.3 L97.8 391.1 L98.5 391 L99.2 390.8 L100 390.6 L100.7 390.5 L101.4 390.3 L102.1 390.1 L102.8 389.8 L103.5 389.6 L104.2 389.4 L104.8 389.2 L105.5 388.9 L106.2 388.6 L106.8 388.4 L107.5 388.1 L108.2 387.8 L108.8 387.5 L109.5 387.2 L110.1 386.8 L110.8 386.5 L111.4 386.2 L112.1 385.8 L112.7 385.5 L113.4 385.1 L114 384.7 L114.6 384.3 L115.3 383.9 L115.9 383.5 L116.5 383 L117 382.5 L117.6 382 L118.2 381.5 L118.7 381 L119.2 380.5 L119.6 380 L120 379.5 L120.4 379 L120.8 378.4 L121.2 377.8 L121.6 377.3 L122 376.7 L122.4 376 L122.8 375.4 L123.1 374.8 L123.5 374.2 L123.8 373.5 L124.2 372.9 L124.5 372.2 L124.9 371.6 L125.2 370.9 L125.6 370.3 L125.9 369.7 L126.3 369 L126.6 368.4 L126.9 367.8 L127.3 367.2 L127.6 366.5 L127.9 365.9 L128.2 365.3 L128.5 364.6 L128.8 364 L129.1 363.3 L129.4 362.7 L129.7 362 L130 361.4 L130.3 360.7 L130.6 360.1 L130.9 359.4 L131.2 358.8 L131.5 358.2 L131.8 357.5 L132.1 356.9 L132.4 356.3 L132.7 355.7 L133 355.1 L133.3 354.5 L133.7 353.8 L134.1 353.2 L134.4 352.5 L134.8 351.9 L135.2 351.3 L135.6 350.6 L136 350 L136.4 349.4 L136.8 348.8 L137.2 348.2 L137.6 347.6 L137.9 347 L138.3 346.4 L138.7 345.8 L139.1 345.2 L139.5 344.5 L139.9 343.9 L140.3 343.3 L140.7 342.5 L141 341.8 L141.4 341 L141.8 340.2 L142.2 339.4 L142.5 338.5 L142.9 337.7 L143.3 336.9 L143.7 336.2 L144 335.4 L144.4 334.8 L144.8 334.2 L145.2 333.7 L145.5 333.2 L145.9 332.9 L146.2 332.7 L146.6 332.6 L147.1 332.7 L147.6 332.9 L148 333.4 L148.5 334 L149 334.6 L149.4 335.4 L149.9 336.2 L150.3 337 L150.8 337.8 L151.2 338.5 L151.5 339.1 L151.8 339.6 L152.2 340.2 L152.5 340.8 L152.8 341.4 L153.1 342.1 L153.4 342.7 L153.7 343.4 L153.9 344.1 L154.2 344.8 L154.5 345.5 L154.8 346.2 L155.1 346.9 L155.3 347.7 L155.6 348.4 L155.9 349.2 L156.1 349.8 L156.3 350.4 L156.5 351 L156.7 351.7 L156.8 352.3 L157 353 L157.2 353.7 L157.3 354.4 L157.5 355.1 L157.7 355.9 L157.8 356.6 L158 357.3 L158.2 358.1 L158.3 358.8 L158.5 359.6 L158.6 360.3 L158.8 361 L159 361.8 L159.1 362.5 L159.3 363.2 L159.5 363.9 L159.7 364.6 L159.9 365.3 L160.1 366 L160.3 366.7 L160.5 367.3 L160.7 367.9 L161 368.5 L161.2 369.1 L161.5 369.8 L161.8 370.6 L162.2 371.3 L162.5 372 L162.8 372.6 L163.1 373.3 L163.5 373.9 L163.8 374.6 L164.2 375.2 L164.6 375.8 L165 376.4 L165.4 377 L165.8 377.5 L166.3 378.1 L166.8 378.6 L167.3 379.2 L167.8 379.7 L168.3 380.1 L168.8 380.6 L169.3 381 L169.9 381.4 L170.5 381.8 L171.1 382.2 L171.7 382.6 L172.4 383 L173 383.4 L173.7 383.8 L174.3 384.1 L175 384.5 L175.7 384.8 L176.4 385.2 L177.1 385.5 L177.8 385.8 L178.5 386.1 L179.2 386.4 L179.8 386.7 L180.5 386.9 L181.2 387.2 L181.9 387.5 L182.5 387.7 L183.2 387.9 L183.9 388.2 L184.6 388.4 L185.3 388.6 L186.1 388.8 L186.8 389 L187.5 389.2 L188.2 389.4 L189 389.6 L189.7 389.7 L190.4 389.8 L191.1 390 L191.8 390.1 L192.5 390.2 L193.2 390.2 L193.8 390.3 L194.5 390.4 L195.1 390.4 L195.7 390.4 L196.5 390.4 L197.2 390.3 L197.8 390.2 L198.5 390 L199.1 389.9 L199.8 389.7 L200.4 389.5 L201.1 389.3 L201.8 389.2 L202.5 389.1 L203.3 389 L203.9 389 L204.5 389 L205.2 389 L205.8 389 L206.5 389 L207.2 389 L207.9 389.1 L208.7 389.1 L209.4 389.2 L210.2 389.2 L210.9 389.3 L211.7 389.3 L212.5 389.4 L213.2 389.5 L214 389.6 L214.8 389.7 L215.5 389.8 L216.3 389.9 L217 390 L217.8 390.1 L218.5 390.2 L219.2 390.3 L219.9 390.4 L220.7 390.5 L221.4 390.7 L222.2 390.9 L222.9 391.1 L223.6 391.3 L224.4 391.6 L225.1 391.8 L225.8 392.1 L226.6 392.3 L227.3 392.6 L228 392.8 L228.7 393 L229.4 393.2 L230.1 393.4 L230.8 393.5 L231.5 393.6 L232.2 393.6 L232.8 393.6 L233.5 393.5 L234.2 393.4 L234.8 393.2 L235.5 392.9 L236.1 392.6 L236.7 392.2 L237.4 391.8 L238 391.4 L238.6 391 L239.2 390.5 L239.8 390.1 L240.4 389.6 L241 389.1 L241.6 388.7 L242.3 388.3 L242.9 387.9 L243.5 387.5 L244.2 387.2 L244.8 386.9 L245.5 386.6 L246.2 386.4 L246.9 386.2 L247.7 386 L248.4 385.8 L249.2 385.7 L249.9 385.5 L250.7 385.4 L251.4 385.2 L252.1 385.1 L252.9 385 L253.6 384.9 L254.3 384.8 L255 384.8 L255.7 384.7 L256.4 384.6 L257.1 384.5 L257.8 384.5 L258.5 384.5 L259.1 384.4 L259.8 384.4 L260.4 384.4 L261.1 384.4 L261.7 384.5 L262.4 384.5 L263.2 384.4 L263.9 384.4 L264.8 384.4 L265.3 384.4 L265.9 384.3 L266.5 384.3 L267 384.3 L267.6 384.2 L268.3 384.2 L268.9 384.2 L269.6 384.1 L270.2 384.1 L270.9 384 L271.6 384 L272.3 383.9 L273 383.9 L273.7 383.8 L274.5 383.8 L275.2 383.7 L276 383.7 L276.7 383.6 L277.5 383.6 L278.2 383.5 L279 383.5 L279.8 383.4 L280.5 383.3 L281.3 383.3 L282.1 383.2 L282.8 383.2 L283.6 383.1 L284.4 383.1 L285.1 383 L285.9 383 L286.6 382.9 L287.3 382.9 L288.1 382.8 L288.8 382.7 L289.5 382.7" stroke="#000" stroke-width="1.5" fill="none" stroke-dasharray="5 5.6"/>
<path d="M326.4 383.9 L327.1 383.9 L327.8 383.9 L328.6 383.9 L329.3 383.9 L330 384 L330.8 384 L331.5 384 L332.2 384 L333 384 L333.7 384 L334.4 384 L335.2 384 L335.9 384 L336.6 384 L337.4 384 L338.1 384.1 L338.8 384.1 L339.5 384.1 L340.3 384.1 L341 384.1 L341.7 384.1 L342.4 384.1 L343.1 384.1 L343.8 384.1 L344.5 384.2 L345.2 384.2 L345.9 384.2 L346.7 384.2 L347.4 384.3 L348.2 384.3 L349 384.4 L349.8 384.5 L350.6 384.6 L351.4 384.7 L352.2 384.8 L352.9 384.9 L353.7 385 L354.5 385.1 L355.2 385.2 L356 385.2 L356.7 385.3 L357.4 385.3 L358.1 385.3 L358.8 385.3 L359.5 385.3 L360.1 385.2 L360.7 385.1 L361.3 385 L361.9 384.8 L362.6 384.5 L363.2 384.2 L363.8 383.9 L364.4 383.5 L364.9 383 L365.5 382.6 L366 382.1 L366.5 381.6 L366.9 381 L367.4 380.5 L367.9 380 L368.4 379.4 L368.9 378.9 L369.4 378.4 L369.8 377.9 L370.2 377.4 L370.7 376.9 L371.1 376.3 L371.5 375.8 L372 375.2 L372.4 374.6 L372.8 374 L373.2 373.5 L373.6 372.9 L374.1 372.3 L374.5 371.7 L374.9 371.1 L375.4 370.5 L375.8 369.9 L376.2 369.3 L376.6 368.7 L377 368.1 L377.5 367.5 L377.9 366.8 L378.3 366.1 L378.8 365.4 L379.2 364.7 L379.6 364.1 L380 363.4 L380.5 362.8 L380.9 362.1 L381.3 361.5 L381.8 361 L382.2 360.5 L382.6 360 L383 359.6 L383.4 359.2 L383.8 358.9 L384.6 358.4 L385.4 358 L386.2 357.8 L387 357.7 L387.8 357.9 L388.2 358.1 L388.6 358.4 L389 358.8 L389.4 359.2 L389.9 359.7 L390.3 360.3 L390.7 360.9 L391.1 361.6 L391.5 362.3 L391.9 363 L392.3 363.7 L392.8 364.5 L393.2 365.2 L393.6 365.9 L394 366.6 L394.4 367.3 L394.8 367.9 L395.2 368.5 L395.6 369.1 L395.9 369.7 L396.3 370.3 L396.6 370.9 L397 371.5 L397.3 372.2 L397.6 372.8 L398 373.4 L398.3 374 L398.7 374.7 L399.1 375.3 L399.5 375.9 L399.9 376.5 L400.3 377.1 L400.7 377.7 L401.2 378.3 L401.7 378.9 L402.1 379.4 L402.6 379.9 L403 380.3 L403.5 380.8 L404 381.3 L404.4 381.8 L404.9 382.3 L405.4 382.7 L406 383.2 L406.5 383.7 L407 384.1 L407.6 384.6 L408.1 385.1 L408.7 385.5 L409.3 386 L409.8 386.5 L410.4 386.9 L411 387.4 L411.6 387.8 L412.1 388.2 L412.7 388.7 L413.3 389.1 L413.9 389.5 L414.5 390 L415.1 390.4 L415.7 390.8 L416.3 391.2 L416.9 391.6 L417.5 392 L418.1 392.3 L418.7 392.7 L419.4 393.1 L420 393.5 L420.7 393.8 L421.3 394.2 L422 394.6 L422.7 394.9 L423.3 395.3 L424 395.7 L424.7 396 L425.4 396.4 L426 396.7 L426.7 397 L427.3 397.4 L428 397.7 L428.6 398 L429.2 398.4 L429.9 398.7 L430.4 399 L431 399.3 L431.6 399.6 L432.1 399.9 L432.6 400.2 L433.1 400.5 L433.6 400.8 L434.3 401.3 L435 401.7 L435.5 402.1 L436.1 402.6 L436.6 403 L437.2 403.4 L437.7 403.8 L438.2 404.1 L438.8 404.5 L439.4 404.9 L440 405.2 L440.6 405.5 L441.3 405.8 L441.9 406.1 L442.6 406.4 L443.3 406.7 L444 407 L444.7 407.2 L445.4 407.5 L446.1 407.7 L446.9 407.9 L447.6 408.1 L448.3 408.2 L449.1 408.3 L449.8 408.4 L450.5 408.4 L451.2 408.5 L451.9 408.5 L452.7 408.5 L453.4 408.4 L454.2 408.4 L454.9 408.3 L455.7 408.2 L456.4 408.1 L457.1 408 L457.9 407.8 L458.6 407.7 L459.3 407.5 L460 407.3 L460.7 407 L461.3 406.8 L462 406.5 L462.6 406.3 L463.3 406 L463.9 405.7 L464.5 405.3 L465.1 405 L465.7 404.6 L466.3 404.2 L466.8 403.8 L467.4 403.3 L467.9 402.8 L468.4 402.3 L468.9 401.7 L469.4 401.1 L469.7 400.6 L470 400.1 L470.3 399.6 L470.6 399.1 L470.9 398.5 L471.2 397.9 L471.4 397.3 L471.7 396.7 L471.9 396.1 L472.2 395.4 L472.4 394.7 L472.6 394 L472.8 393.3 L473 392.6 L473.2 391.9 L473.4 391.1 L473.6 390.4 L473.8 389.7 L474 388.9 L474.1 388.2 L474.3 387.4 L474.5 386.7 L474.6 385.9 L474.8 385.2 L474.9 384.5 L475.1 383.7 L475.3 383 L475.4 382.3 L475.5 381.6 L475.7 381 L475.8 380.3 L475.9 379.6 L476 378.9 L476.1 378.3 L476.2 377.6 L476.3 376.9 L476.4 376.2 L476.5 375.5 L476.6 374.9 L476.6 374.2 L476.7 373.5 L476.8 372.8 L476.8 372.1 L476.9 371.4 L477 370.7 L477 370 L477.1 369.3 L477.1 368.6 L477.2 367.9 L477.2 367.2 L477.3 366.4 L477.3 365.7 L477.4 365 L477.4 364.2 L477.5 363.5 L477.5 362.8 L477.6 362 L477.6 361.3 L477.7 360.5 L477.7 359.9 L477.8 359.2 L477.8 358.5 L477.9 357.9 L477.9 357.2 L478 356.5 L478 355.9 L478.1 355.2 L478.1 354.5 L478.2 353.8 L478.2 353.1 L478.2 352.4 L478.3 351.7 L478.3 351 L478.3 350.3 L478.4 349.6 L478.4 348.9 L478.5 348.2 L478.5 347.5 L478.5 346.8 L478.6 346.1 L478.6 345.3 L478.6 344.6 L478.7 343.9 L478.7 343.2 L478.7 342.5 L478.7 341.8 L478.8 341 L478.8 340.3 L478.8 339.6 L478.9 338.9 L478.9 338.1 L478.9 337.4 L479 336.7 L479 336 L479 335.3 L479 334.6 L479.1 333.8 L479.1 333.1 L479.1 332.4 L479.1 331.7 L479.2 331 L479.2 330.3 L479.2 329.6 L479.3 328.9 L479.3 328.2 L479.3 327.5 L479.3 326.7 L479.3 326 L479.4 325.3 L479.4 324.5 L479.4 323.8 L479.4 323.1 L479.4 322.3 L479.5 321.6 L479.5 320.8 L479.5 320.1 L479.5 319.3 L479.5 318.6 L479.5 317.8 L479.5 317.1 L479.6 316.4 L479.6 315.6 L479.6 314.9 L479.6 314.1 L479.6 313.4 L479.6 312.7 L479.6 312 L479.7 311.2 L479.7 310.5 L479.7 309.8 L479.7 309.1 L479.7 308.4 L479.7 307.7 L479.8 307.1 L479.8 306.4 L479.8 305.7 L479.8 305.1 L479.8 304.4 L479.9 303.8 L479.9 303.2 L479.9 302.5 L479.9 301.9 L479.9 301.3 L480 300.8 L480 300.2 L480 299.3 L480.1 298.5 L480.1 297.7 L480.1 296.8 L480.2 296 L480.2 295.2 L480.2 294.4 L480.2 293.6 L480.3 292.9 L480.3 292.2 L480.3 291.4 L480.4 290.7 L480.4 290.1 L480.5 289.4 L480.6 288.8 L480.7 288.2 L480.8 287.6 L480.9 287.1 L481 286.6 L481.3 285.7 L481.6 284.8 L482 284 L482.3 283.4 L482.7 283 L483 282.8 L483.3 283 L483.7 283.6 L484 284.4 L484.2 285.5 L484.5 286.6 L484.6 287 L484.7 287.4 L484.7 287.9 L484.8 288.4 L484.9 288.9 L484.9 289.4 L485 290 L485 290.6 L485.1 291.2 L485.1 291.8 L485.2 292.5 L485.2 293.2 L485.2 293.9 L485.3 294.6 L485.3 295.3 L485.3 296.1 L485.4 296.8 L485.4 297.6 L485.4 298.4 L485.4 299.2 L485.5 300 L485.5 300.8 L485.5 301.6 L485.5 302.4 L485.5 303.2 L485.6 304.1 L485.6 304.9 L485.6 305.7 L485.6 306.5 L485.7 307.4 L485.7 308.2 L485.7 309 L485.7 309.8 L485.8 310.6 L485.8 311.4 L485.8 312.2 L485.9 313 L485.9 313.7 L486 314.5 L486 315.2 L486 315.9 L486.1 316.6 L486.1 317.3 L486.2 318 L486.2 318.7 L486.3 319.4 L486.3 320.1 L486.3 320.8 L486.4 321.5 L486.4 322.3 L486.5 323 L486.5 323.7 L486.6 324.4 L486.6 325.1 L486.7 325.9 L486.7 326.6 L486.8 327.3 L486.8 328 L486.8 328.7 L486.9 329.5 L486.9 330.2 L487 330.9 L487 331.6 L487.1 332.3 L487.1 333 L487.2 333.7 L487.2 334.5 L487.3 335.2 L487.4 335.9 L487.4 336.6 L487.5 337.3 L487.5 338 L487.6 338.7 L487.6 339.4 L487.7 340 L487.8 340.7 L487.8 341.4 L487.9 342.1 L487.9 342.8 L488 343.4 L488.1 344.1 L488.1 344.7 L488.2 345.4 L488.3 346.2 L488.4 346.9 L488.4 347.7 L488.5 348.4 L488.6 349.2 L488.6 349.9 L488.7 350.7 L488.8 351.4 L488.9 352.2 L488.9 352.9 L489 353.7 L489.1 354.4 L489.1 355.1 L489.2 355.9 L489.3 356.6 L489.4 357.3 L489.5 358 L489.6 358.7 L489.6 359.4 L489.7 360.1 L489.8 360.8 L489.9 361.5 L490 362.2 L490.2 362.9 L490.3 363.5 L490.4 364.2 L490.5 364.9 L490.7 365.5 L490.8 366.1 L491 366.8 L491.1 367.4 L491.3 368 L491.5 368.7 L491.7 369.5 L492 370.2 L492.2 371 L492.4 371.7 L492.7 372.4 L492.9 373.1 L493.2 373.8 L493.4 374.5 L493.7 375.2 L494 375.9 L494.3 376.5 L494.6 377.1 L494.9 377.8 L495.2 378.4 L495.5 379 L495.8 379.5 L496.2 380.1 L496.5 380.6 L496.9 381.1 L497.3 381.6 L497.8 382.2 L498.3 382.7 L498.8 383.2 L499.3 383.6 L499.8 384.1 L500.4 384.5 L501 384.9 L501.5 385.2 L502.1 385.6 L502.8 385.9 L503.4 386.3 L504 386.6 L504.7 386.9 L505.4 387.2 L506 387.4 L506.6 387.7 L507.2 387.9 L507.9 388.1 L508.5 388.2 L509.2 388.4 L509.9 388.6 L510.6 388.7 L511.3 388.8 L512 389 L512.8 389.1 L513.5 389.2 L514.2 389.3 L515 389.5 L515.7 389.6 L516.4 389.7 L517.2 389.8 L517.9 390 L518.6 390.1 L519.3 390.2 L520 390.4 L520.7 390.6 L521.4 390.7 L522.2 390.9 L522.9 391 L523.6 391.2 L524.4 391.3 L525.1 391.5 L525.9 391.6 L526.6 391.8 L527.3 391.9 L528 392.1 L528.8 392.3 L529.5 392.4 L530.2 392.6 L530.9 392.8 L531.5 393 L532.2 393.2 L532.9 393.5 L533.5 393.7 L534.1 394 L534.8 394.3 L535.5 394.7 L536.2 395 L536.9 395.4 L537.5 395.7 L538.2 396.1 L538.8 396.5 L539.4 396.9 L540 397.4 L540.6 397.8 L541.2 398.3 L541.7 398.8 L542.2 399.3 L542.7 399.8 L543.2 400.4 L543.6 400.9 L544 401.5 L544.4 402.1 L544.7 402.7 L545 403.3 L545.3 403.9 L545.6 404.5 L545.9 405.2 L546.2 405.9 L546.4 406.6 L546.7 407.3 L546.9 408 L547.1 408.7 L547.3 409.5 L547.6 410.2 L547.8 411 L548 411.7 L548.2 412.5 L548.4 413.1 L548.5 413.7 L548.7 414.3 L548.8 415 L548.9 415.6 L549.1 416.2 L549.2 416.9 L549.3 417.6 L549.4 418.2 L549.5 418.9 L549.7 419.6 L549.8 420.3 L549.9 421 L550 421.7 L550 422.4 L550.1 423.1 L550.2 423.8 L550.3 424.5 L550.4 425.2 L550.5 425.9 L550.6 426.7 L550.6 427.4 L550.7 428.1 L550.8 428.9 L550.9 429.6 L551 430.4 L551 431.1 L551.1 431.9 L551.2 432.6 L551.3 433.3 L551.3 434 L551.4 434.8 L551.5 435.6 L551.5 436.4 L551.6 437.2 L551.7 438.1 L551.7 439 L551.8 439.9 L551.8 440.8 L551.9 441.8 L551.9 442.7 L552 443.7 L552.1 444.6 L552.1 445.6 L552.2 446.5 L552.2 447.5 L552.2 448.4 L552.3 449.3 L552.3 450.2 L552.4 451.1 L552.4 452 L552.5 452.8 L552.5 453.6 L552.6 454.4 L552.6 455.1 L552.7 455.8 L552.7 456.4 L552.8 457 L552.8 457.6 L552.9 458.1 L552.9 458.5 L552.9 458.9 L553 459.2 L553 459.5 L553.1 459.6 L553.1 459.8 L553.2 459.8 L553.3 459.8 L553.3 459.7 L553.4 459.5 L553.4 459.3 L553.5 459 L553.5 458.7 L553.6 458.3 L553.6 457.9 L553.7 457.4 L553.7 456.9 L553.8 456.3 L553.8 455.7 L553.9 455 L553.9 454.3 L554 453.6 L554.1 452.9 L554.1 452.1 L554.2 451.3 L554.2 450.4 L554.3 449.6 L554.3 448.7 L554.4 447.8 L554.4 446.9 L554.5 446 L554.5 445 L554.6 444.1 L554.6 443.2 L554.7 442.2 L554.7 441.3 L554.8 440.3 L554.8 439.4 L554.9 438.4 L554.9 437.5 L555 436.6 L555 435.7 L555.1 434.8 L555.1 433.9 L555.2 433 L555.2 432.2 L555.3 431.4 L555.3 430.6 L555.3 429.9 L555.4 429.3 L555.4 428.6 L555.4 427.9 L555.5 427.3 L555.5 426.6 L555.5 425.9 L555.5 425.2 L555.6 424.5 L555.6 423.8 L555.6 423 L555.6 422.3 L555.6 421.6 L555.7 420.9 L555.7 420.1 L555.7 419.4 L555.7 418.7 L555.7 417.9 L555.8 417.2 L555.8 416.4 L555.8 415.7 L555.8 414.9 L555.8 414.2 L555.8 413.4 L555.9 412.7 L555.9 411.9 L555.9 411.2 L555.9 410.4 L555.9 409.7 L555.9 408.9 L555.9 408.2 L556 407.4 L556 406.7 L556 405.9 L556 405.2 L556 404.5 L556.1 403.7 L556.1 403 L556.1 402.3 L556.1 401.6 L556.1 400.9 L556.2 400.2 L556.2 399.4 L556.2 398.8 L556.3 398.1 L556.3 397.4 L556.3 396.7 L556.3 396 L556.4 395.4 L556.4 394.7 L556.4 394.1 L556.5 393.4 L556.5 392.8 L556.6 392.2 L556.6 391.6 L556.7 391 L556.7 390.4 L556.8 389.5 L556.8 388.7 L556.9 387.8 L556.9 386.9 L557 386 L557 385.1 L557.1 384.2 L557.1 383.4 L557.2 382.5 L557.2 381.6 L557.2 380.7 L557.3 379.9 L557.4 379 L557.4 378.2 L557.5 377.4 L557.6 376.6 L557.6 375.9 L557.7 375.2 L557.8 374.5 L557.9 373.9 L558.1 373.3 L558.2 372.7 L558.3 372.2 L558.5 371.7 L558.7 371.3 L558.9 370.9 L559.1 370.6 L559.3 370.3 L560 369.8 L560.9 369.6 L561.8 369.7 L562.7 369.9 L563.2 370.1 L563.7 370.5 L564.1 370.9 L564.6 371.4 L565.1 371.9 L565.6 372.5 L566.1 373.1 L566.6 373.7 L567.2 374.3 L567.7 374.8 L568.3 375.3 L568.9 375.7 L569.5 376.1 L570.1 376.6 L570.7 377 L571.4 377.4 L572 377.8 L572.7 378.2 L573.3 378.6 L574 378.9 L574.6 379.3 L575.2 379.6 L575.8 380 L576.4 380.3 L577.1 380.7 L577.9 381.1 L578.5 381.4 L579.2 381.8 L579.9 382.1 L580.5 382.5 L581.2 382.8" stroke="#000" stroke-width="1.5" fill="none" stroke-dasharray="5 5.6"/>
</svg>
</body></html>
